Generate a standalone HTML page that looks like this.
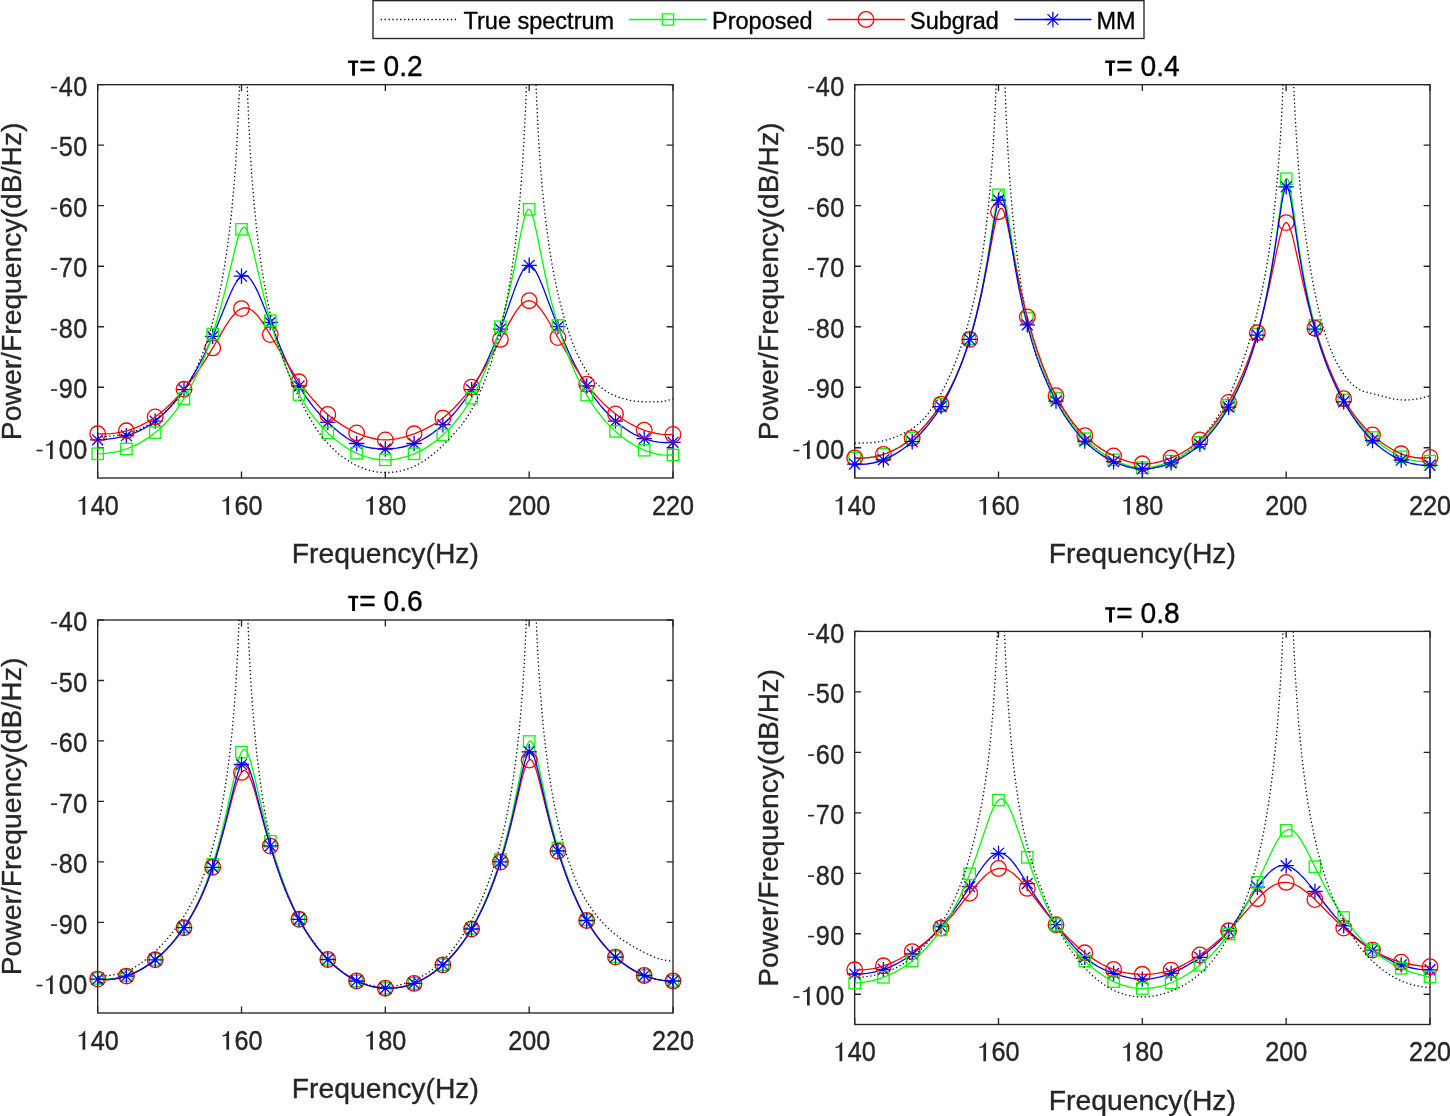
<!DOCTYPE html>
<html><head><meta charset="utf-8"><title>Spectrum estimates</title>
<style>
html,body{margin:0;padding:0;background:#fff;width:1450px;height:1116px;overflow:hidden}
svg text{font-family:"Liberation Sans",sans-serif}
svg{will-change:transform}
</style></head>
<body>
<svg width="1450" height="1116" viewBox="0 0 1450 1116" style="display:block">
<rect x="0" y="0" width="1450" height="1116" fill="#fff"/>
<defs>
<clipPath id="cTL"><rect x="97.67" y="84.67" width="575.33" height="393.33"/></clipPath>
<clipPath id="cTR"><rect x="854.67" y="84.67" width="575.33" height="393.33"/></clipPath>
<clipPath id="cBL"><rect x="97.67" y="620.0" width="575.33" height="393.00"/></clipPath>
<clipPath id="cBR"><rect x="854.67" y="631.4" width="575.33" height="393.10"/></clipPath>
</defs>
<g><rect x="97.67" y="84.67" width="575.33" height="393.33" fill="none" stroke="#262626" stroke-width="1.35"/><path d="M97.67 478.0v-6.4M97.67 84.67v6.4M241.50 478.0v-6.4M241.50 84.67v6.4M385.34 478.0v-6.4M385.34 84.67v6.4M529.17 478.0v-6.4M529.17 84.67v6.4M673.00 478.0v-6.4M673.00 84.67v6.4M97.67 84.67h6.4M673.0 84.67h-6.4M97.67 145.18h6.4M673.0 145.18h-6.4M97.67 205.69h6.4M673.0 205.69h-6.4M97.67 266.21h6.4M673.0 266.21h-6.4M97.67 326.72h6.4M673.0 326.72h-6.4M97.67 387.23h6.4M673.0 387.23h-6.4M97.67 447.74h6.4M673.0 447.74h-6.4" stroke="#262626" stroke-width="1.35" fill="none"/><g font-size="25.2" fill="#262626" stroke="#262626" stroke-width="0.35"><path transform="translate(76.65 514.70)" d="M5.9 0H8.6V-18.6H7.3C6.8 -17.2 6.0 -16.25 5.0 -15.55C4.1 -14.9 3.0 -14.6 1.85 -14.5V-13.2C3.3 -13.2 4.8 -13.5 5.9 -13.9Z" stroke="none"/><text transform="translate(90.66 514.70) scale(1 1.09)" letter-spacing="0">40</text><path transform="translate(220.48 514.70)" d="M5.9 0H8.6V-18.6H7.3C6.8 -17.2 6.0 -16.25 5.0 -15.55C4.1 -14.9 3.0 -14.6 1.85 -14.5V-13.2C3.3 -13.2 4.8 -13.5 5.9 -13.9Z" stroke="none"/><text transform="translate(234.49 514.70) scale(1 1.09)" letter-spacing="0">60</text><path transform="translate(364.31 514.70)" d="M5.9 0H8.6V-18.6H7.3C6.8 -17.2 6.0 -16.25 5.0 -15.55C4.1 -14.9 3.0 -14.6 1.85 -14.5V-13.2C3.3 -13.2 4.8 -13.5 5.9 -13.9Z" stroke="none"/><text transform="translate(378.33 514.70) scale(1 1.09)" letter-spacing="0">80</text><text transform="translate(508.14 514.70) scale(1 1.09)" letter-spacing="0">200</text><text transform="translate(651.98 514.70) scale(1 1.09)" letter-spacing="0">220</text><path transform="translate(49.75 95.87)" d="M1.3 -9.2H7.3V-7.6H1.3Z" stroke="none"/><text transform="translate(58.69 95.87) scale(1 1.09)" letter-spacing="0.55">40</text><path transform="translate(49.75 156.38)" d="M1.3 -9.2H7.3V-7.6H1.3Z" stroke="none"/><text transform="translate(58.69 156.38) scale(1 1.09)" letter-spacing="0.55">50</text><path transform="translate(49.75 216.89)" d="M1.3 -9.2H7.3V-7.6H1.3Z" stroke="none"/><text transform="translate(58.69 216.89) scale(1 1.09)" letter-spacing="0.55">60</text><path transform="translate(49.75 277.41)" d="M1.3 -9.2H7.3V-7.6H1.3Z" stroke="none"/><text transform="translate(58.69 277.41) scale(1 1.09)" letter-spacing="0.55">70</text><path transform="translate(49.75 337.92)" d="M1.3 -9.2H7.3V-7.6H1.3Z" stroke="none"/><text transform="translate(58.69 337.92) scale(1 1.09)" letter-spacing="0.55">80</text><path transform="translate(49.75 398.43)" d="M1.3 -9.2H7.3V-7.6H1.3Z" stroke="none"/><text transform="translate(58.69 398.43) scale(1 1.09)" letter-spacing="0.55">90</text><path transform="translate(35.18 458.94)" d="M1.3 -9.2H7.3V-7.6H1.3Z" stroke="none"/><path transform="translate(44.12 458.94)" d="M5.9 0H8.6V-18.6H7.3C6.8 -17.2 6.0 -16.25 5.0 -15.55C4.1 -14.9 3.0 -14.6 1.85 -14.5V-13.2C3.3 -13.2 4.8 -13.5 5.9 -13.9Z" stroke="none"/><text transform="translate(58.69 458.94) scale(1 1.09)" letter-spacing="0.55">00</text></g><path d="M348.19 60.47h10v2.5h-3.2v12.8h-2.9v-12.8h-3.9z" fill="#000"/><text transform="translate(359.19 75.97) scale(1 1.055)" font-size="28.2" fill="#000" stroke="#000" stroke-width="0.35">= 0.2</text><text transform="translate(385.33 563.00) scale(1 1.0)" text-anchor="middle" font-size="28.3" fill="#262626" stroke="#262626" stroke-width="0.35">Frequency(Hz)</text><text transform="translate(20.9 281.3) rotate(-90) scale(1 1.0)" x="0" y="0" text-anchor="middle" font-size="28.3" fill="#262626" stroke="#262626" stroke-width="0.35">Power/Frequency(dB/Hz)</text><path clip-path="url(#cTL)" d="M97.7 439.9L103.9 439.5L109.6 438.9L114.9 438.2L120.1 437.2L125.0 436.0L129.7 434.6L134.2 433.0L138.7 431.1L143.0 429.0L147.1 426.6L151.2 424.0L155.2 421.1L159.2 417.8L163.1 414.3L167.0 410.5L170.9 406.3L174.2 402.5L177.5 398.4L184.1 389.4L190.4 379.9L196.5 369.6L199.9 363.3L203.4 356.6L206.7 349.8L210.1 342.3L216.5 327.6L228.4 298.2L231.1 292.0L233.4 287.2L236.5 281.8L237.9 279.7L239.2 278.2L240.6 276.8L241.9 275.9L243.2 275.4L244.5 275.3L245.8 275.5L247.3 276.1L248.6 277.1L250.0 278.6L251.4 280.4L253.0 282.8L256.3 288.9L259.1 294.8L262.2 302.3L276.2 337.3L283.1 353.8L286.7 361.8L290.3 369.5L293.7 376.3L297.2 382.7L300.2 388.0L303.4 393.0L306.7 397.9L310.0 402.5L313.4 406.9L317.2 411.3L321.0 415.5L325.2 419.8L331.0 425.3L336.4 430.1L341.8 434.4L346.8 438.0L351.7 441.0L356.3 443.4L360.9 445.3L365.6 446.8L371.2 448.0L377.3 448.7L383.8 449.0L390.5 448.7L396.8 448.1L402.9 447.0L408.6 445.4L414.2 443.5L417.8 441.9L421.6 440.0L425.3 437.9L429.1 435.6L432.8 433.0L436.4 430.2L440.1 427.2L443.7 424.0L447.3 420.5L450.8 417.0L454.2 413.2L457.5 409.3L460.8 405.2L464.0 400.9L470.3 391.7L476.1 382.2L481.6 372.3L486.9 361.5L492.2 349.6L496.2 339.9L500.3 329.5L504.9 316.9L514.9 288.4L517.7 281.3L520.0 275.9L522.4 271.2L523.6 269.4L524.7 267.8L525.9 266.7L526.9 265.9L528.0 265.4L529.0 265.3L530.2 265.5L531.3 266.1L532.5 267.0L533.6 268.2L534.8 269.8L536.1 271.9L538.8 277.3L540.8 281.9L543.1 287.6L554.6 318.2L561.2 334.9L564.8 343.4L568.3 351.2L571.7 358.5L575.2 365.5L581.2 376.8L587.4 387.2L590.6 392.0L593.7 396.6L596.9 400.9L600.2 405.1L604.4 410.0L608.6 414.5L612.7 418.6L617.0 422.5L621.5 426.1L626.0 429.3L630.4 432.1L635.0 434.7L639.6 436.9L644.2 438.7L649.0 440.2L653.7 441.3L658.5 442.1L663.4 442.5L668.1 442.6L673.0 442.3" fill="none" stroke="#0000ff" stroke-width="1.3" stroke-linejoin="round"/><g fill="none" stroke="#0000ff" stroke-width="1.3"><path d="M97.7 432.2V447.6M90.0 439.9H105.4M92.2 434.4L103.1 445.3M92.2 445.3L103.1 434.4"/><path d="M126.4 427.9V443.3M118.7 435.6H134.1M121.0 430.2L131.9 441.1M121.0 441.1L131.9 430.2"/><path d="M155.2 413.4V428.8M147.5 421.1H162.9M149.8 415.7L160.6 426.6M149.8 426.6L160.6 415.7"/><path d="M184.0 382.0V397.4M176.3 389.7H191.7M178.5 384.2L189.4 395.1M178.5 395.1L189.4 384.2"/><path d="M212.7 328.7V344.1M205.0 336.4H220.4M207.3 331.0L218.2 341.8M207.3 341.8L218.2 331.0"/><path d="M241.5 268.5V283.9M233.8 276.2H249.2M236.1 270.7L246.9 281.6M236.1 281.6L246.9 270.7"/><path d="M270.3 314.8V330.2M262.6 322.5H278.0M264.8 317.0L275.7 327.9M264.8 327.9L275.7 317.0"/><path d="M299.0 378.3V393.7M291.3 386.0H306.7M293.6 380.6L304.5 391.5M293.6 391.5L304.5 380.6"/><path d="M327.8 414.6V430.0M320.1 422.3H335.5M322.4 416.9L333.2 427.8M322.4 427.8L333.2 416.9"/><path d="M356.6 435.8V451.2M348.9 443.5H364.3M351.1 438.1L362.0 449.0M351.1 449.0L362.0 438.1"/><path d="M385.3 441.3V456.7M377.6 449.0H393.0M379.9 443.5L390.8 454.4M379.9 454.4L390.8 443.5"/><path d="M414.1 435.8V451.2M406.4 443.5H421.8M408.7 438.1L419.5 449.0M408.7 449.0L419.5 438.1"/><path d="M442.9 417.0V432.4M435.2 424.7H450.6M437.4 419.3L448.3 430.2M437.4 430.2L448.3 419.3"/><path d="M471.6 382.0V397.4M463.9 389.7H479.3M466.2 384.2L477.1 395.1M466.2 395.1L477.1 384.2"/><path d="M500.4 321.4V336.8M492.7 329.1H508.1M495.0 323.7L505.8 334.6M495.0 334.6L505.8 323.7"/><path d="M529.2 257.6V273.0M521.5 265.3H536.9M523.7 259.9L534.6 270.7M523.7 270.7L534.6 259.9"/><path d="M557.9 319.0V334.4M550.2 326.7H565.6M552.5 321.3L563.4 332.2M552.5 332.2L563.4 321.3"/><path d="M586.7 378.3V393.7M579.0 386.0H594.4M581.3 380.6L592.1 391.5M581.3 391.5L592.1 380.6"/><path d="M615.5 413.4V428.8M607.8 421.1H623.2M610.0 415.7L620.9 426.6M610.0 426.6L620.9 415.7"/><path d="M644.2 431.0V446.4M636.5 438.7H651.9M638.8 433.2L649.7 444.1M638.8 444.1L649.7 433.2"/><path d="M673.0 434.6V450.0M665.3 442.3H680.7M667.6 436.9L678.4 447.7M667.6 447.7L678.4 436.9"/></g><path clip-path="url(#cTL)" d="M97.7 433.8L102.3 433.9L106.7 433.9L111.2 433.6L115.5 433.1L119.8 432.3L124.0 431.4L128.2 430.3L132.3 428.9L136.4 427.4L140.4 425.6L144.3 423.7L148.2 421.5L151.9 419.2L155.6 416.6L159.4 413.7L163.1 410.7L167.0 407.2L170.9 403.5L174.8 399.6L178.6 395.4L182.7 390.9L186.8 385.9L194.5 376.0L199.9 368.3L205.3 360.2L211.3 350.3L224.8 327.3L228.7 321.3L232.2 316.6L235.6 312.7L237.3 311.1L238.9 309.9L240.5 309.0L242.1 308.4L243.7 308.0L245.2 307.8L246.8 308.0L248.6 308.5L250.1 309.2L251.9 310.3L253.6 311.7L255.3 313.3L257.2 315.3L259.1 317.6L263.1 323.1L267.7 330.3L283.8 357.8L290.4 368.7L296.0 377.4L301.5 385.2L305.1 390.0L308.8 394.7L312.6 399.2L316.3 403.3L320.0 407.2L323.9 411.0L327.8 414.5L331.8 417.8L336.6 421.4L341.3 424.6L346.2 427.6L351.1 430.3L356.3 432.8L361.5 434.9L366.3 436.7L371.2 438.0L375.7 439.0L380.0 439.6L384.2 439.9L388.4 439.8L392.7 439.4L397.3 438.7L402.0 437.7L406.9 436.3L414.8 433.6L422.4 430.4L429.3 426.9L435.7 423.2L441.7 419.0L447.5 414.3L453.4 408.8L459.1 402.7L465.0 395.8L470.9 388.2L476.8 379.9L482.7 370.8L487.7 362.4L492.9 353.3L510.6 320.4L513.8 314.9L516.5 310.7L518.2 308.3L520.0 306.1L521.5 304.5L523.1 303.1L524.7 302.0L526.1 301.3L527.6 300.8L529.0 300.7L530.5 300.8L531.9 301.3L533.3 302.0L534.9 303.0L536.5 304.4L538.1 306.0L541.4 310.1L544.6 314.7L548.2 320.5L569.2 357.3L575.1 367.1L580.5 375.5L586.7 384.2L592.7 391.8L599.2 399.1L605.8 405.7L609.9 409.3L614.0 412.7L618.2 415.9L622.5 419.0L626.8 421.7L631.1 424.2L635.5 426.5L639.6 428.4L643.9 430.1L648.1 431.5L652.3 432.6L656.5 433.5L660.6 434.2L664.8 434.5L669.0 434.6L673.0 434.4" fill="none" stroke="#ff0000" stroke-width="1.3" stroke-linejoin="round"/><g fill="none" stroke="#ff0000" stroke-width="1.3"><circle cx="97.7" cy="433.8" r="7.8"/><circle cx="126.4" cy="430.8" r="7.8"/><circle cx="155.2" cy="416.9" r="7.8"/><circle cx="184.0" cy="389.3" r="7.8"/><circle cx="212.7" cy="347.9" r="7.8"/><circle cx="241.5" cy="308.6" r="7.8"/><circle cx="270.3" cy="334.6" r="7.8"/><circle cx="299.0" cy="381.8" r="7.8"/><circle cx="327.8" cy="414.5" r="7.8"/><circle cx="356.6" cy="432.9" r="7.8"/><circle cx="385.3" cy="439.9" r="7.8"/><circle cx="414.1" cy="433.8" r="7.8"/><circle cx="442.9" cy="418.1" r="7.8"/><circle cx="471.6" cy="387.2" r="7.8"/><circle cx="500.4" cy="339.4" r="7.8"/><circle cx="529.2" cy="300.7" r="7.8"/><circle cx="557.9" cy="337.6" r="7.8"/><circle cx="586.7" cy="384.2" r="7.8"/><circle cx="615.5" cy="413.9" r="7.8"/><circle cx="644.2" cy="430.2" r="7.8"/><circle cx="673.0" cy="434.4" r="7.8"/></g><path clip-path="url(#cTL)" d="M97.7 453.8L103.9 453.6L110.0 452.9L116.1 451.8L122.0 450.4L127.7 448.5L133.3 446.2L138.8 443.6L144.3 440.4L149.4 437.0L154.6 433.1L159.7 428.8L164.4 424.2L169.2 419.0L173.6 413.6L177.9 407.8L182.1 401.7L185.8 395.6L189.4 389.3L193.0 382.5L196.5 375.4L199.9 367.7L203.2 359.9L206.4 351.8L209.6 343.2L212.7 334.0L215.8 324.5L218.6 314.9L221.5 304.6L226.5 284.8L234.9 249.5L237.6 239.3L239.3 234.0L240.9 230.3L241.8 228.9L242.5 228.0L243.2 227.5L243.9 227.3L244.7 227.5L245.4 228.0L246.1 228.9L246.8 230.0L248.4 233.6L250.1 238.9L251.7 244.7L253.4 251.6L262.9 292.7L268.0 312.4L271.4 324.7L274.9 336.0L278.5 346.9L282.1 356.9L285.9 366.8L289.8 375.9L293.9 384.5L298.0 392.6L302.2 400.0L306.7 407.2L311.3 413.8L316.2 420.2L322.0 427.0L328.4 433.5L334.8 439.2L341.5 444.3L348.1 448.7L351.4 450.6L354.8 452.4L358.2 453.9L361.6 455.3L365.1 456.5L368.5 457.5L371.8 458.3L375.3 459.0L378.7 459.5L382.2 459.7L385.5 459.8L388.9 459.8L392.4 459.5L395.8 459.1L399.3 458.4L402.7 457.6L406.2 456.7L409.8 455.5L413.4 454.1L416.8 452.6L420.3 450.9L423.7 449.1L428.2 446.4L432.5 443.4L436.8 440.2L441.0 436.7L445.0 433.0L449.1 429.0L452.9 424.7L456.8 420.0L460.4 415.4L464.0 410.3L467.5 405.0L470.9 399.4L474.2 393.5L477.4 387.4L480.6 380.9L483.6 374.3L488.6 362.1L493.4 349.1L497.8 335.4L502.1 320.6L506.4 303.8L510.6 285.5L514.4 267.3L520.8 233.6L523.3 222.2L524.7 216.7L526.1 212.5L526.9 211.0L527.4 210.1L528.2 209.5L528.7 209.3L529.3 209.4L529.9 209.8L530.5 210.5L531.2 211.9L532.5 215.3L533.9 220.3L536.6 232.5L544.6 272.0L548.4 289.6L551.0 300.3L553.8 310.9L556.6 321.1L559.5 330.7L562.5 340.0L565.7 349.0L569.0 357.8L572.5 366.3L575.9 374.1L579.5 381.7L583.2 388.9L587.0 395.6L591.3 402.6L595.9 409.3L600.7 415.6L605.5 421.4L610.7 426.9L616.2 432.1L621.8 436.8L627.4 440.9L633.0 444.5L638.8 447.7L644.5 450.3L650.3 452.3L656.0 453.8L661.6 454.8L667.4 455.2L673.0 455.0" fill="none" stroke="#00ff00" stroke-width="1.3" stroke-linejoin="round"/><g fill="none" stroke="#00ff00" stroke-width="1.3"><rect x="92.0" y="448.1" width="11.4" height="11.4"/><rect x="120.7" y="443.3" width="11.4" height="11.4"/><rect x="149.5" y="426.9" width="11.4" height="11.4"/><rect x="178.3" y="393.0" width="11.4" height="11.4"/><rect x="207.0" y="328.3" width="11.4" height="11.4"/><rect x="235.8" y="223.6" width="11.4" height="11.4"/><rect x="264.6" y="315.0" width="11.4" height="11.4"/><rect x="293.3" y="388.8" width="11.4" height="11.4"/><rect x="322.1" y="427.2" width="11.4" height="11.4"/><rect x="350.9" y="447.5" width="11.4" height="11.4"/><rect x="379.6" y="454.1" width="11.4" height="11.4"/><rect x="408.4" y="448.1" width="11.4" height="11.4"/><rect x="437.2" y="429.3" width="11.4" height="11.4"/><rect x="465.9" y="392.4" width="11.4" height="11.4"/><rect x="494.7" y="321.0" width="11.4" height="11.4"/><rect x="523.5" y="203.6" width="11.4" height="11.4"/><rect x="552.2" y="319.8" width="11.4" height="11.4"/><rect x="581.0" y="389.4" width="11.4" height="11.4"/><rect x="609.8" y="425.7" width="11.4" height="11.4"/><rect x="638.5" y="444.5" width="11.4" height="11.4"/><rect x="667.3" y="449.3" width="11.4" height="11.4"/></g><path clip-path="url(#cTL)" d="M97.7 437.4L103.6 436.9L109.9 436.2L117.1 435.3L122.8 434.4L126.9 433.6L130.6 432.6L134.1 431.6L137.5 430.2L141.3 428.6L145.0 426.6L148.9 424.2L152.8 421.6L156.8 418.6L161.1 415.2L165.8 411.1L170.0 407.2L173.3 403.9L176.2 400.7L179.1 397.3L181.8 393.6L184.7 389.4L187.4 385.1L190.2 380.4L192.9 375.3L195.5 370.2L197.9 364.9L202.5 353.8L206.8 341.8L210.9 328.8L214.7 314.3L218.3 298.9L221.7 282.5L224.7 265.3L227.4 247.1L229.9 228.0L232.0 208.0L234.0 185.7L235.6 164.6L237.0 141.5L238.3 116.0L239.3 91.6L240.9 40.4L242.8 -50.1L243.1 -61.4L243.4 -66.7L243.5 -66.5L243.7 -64.3L243.9 -54.9L245.4 18.0L246.4 58.6L247.4 90.1L248.6 118.6L250.1 149.5L252.0 178.3L254.2 204.7L256.7 230.3L259.8 254.6L261.5 266.6L263.2 277.4L265.1 288.1L267.1 298.7L269.3 309.0L271.6 319.0L274.0 328.8L276.5 337.7L279.0 346.5L281.8 355.0L284.7 363.3L287.7 371.4L291.0 379.7L294.4 387.7L298.6 396.7L303.1 405.7L307.5 414.1L312.0 421.8L316.0 428.2L320.0 434.0L324.2 439.3L328.5 444.2L333.6 449.3L338.7 453.9L344.2 458.1L349.7 461.7L355.3 464.9L361.0 467.5L366.6 469.6L372.2 471.1L377.9 472.1L383.6 472.6L389.4 472.5L395.1 472.0L400.7 470.9L406.3 469.4L411.8 467.4L417.1 464.9L422.3 461.9L427.3 458.6L432.5 454.7L437.7 450.3L443.6 444.7L450.2 437.9L456.8 430.6L461.7 424.8L466.0 418.8L470.1 412.4L474.1 405.1L478.1 396.7L482.3 387.1L486.3 376.7L490.2 365.7L493.8 354.4L496.9 343.4L500.0 331.9L502.8 319.6L505.4 307.2L507.9 294.2L510.2 280.6L512.5 265.3L514.5 250.3L516.4 234.7L518.1 218.4L519.7 201.6L521.1 184.2L522.4 166.4L523.7 145.8L525.7 105.6L527.3 62.1L528.6 10.7L529.5 -40.5L530.3 -115.3L532.0 -115.3L532.8 -52.6L533.3 -13.9L534.1 21.8L534.9 54.4L536.1 87.6L537.4 116.6L538.8 142.3L540.5 167.3L542.4 189.5L544.6 210.9L546.9 230.0L549.4 248.4L552.3 265.8L555.5 282.3L558.9 297.8L562.8 312.9L567.0 326.9L571.3 339.4L573.6 345.4L575.9 350.9L578.2 356.0L580.7 361.0L583.0 365.3L585.4 369.4L587.9 373.1L590.4 376.6L593.0 379.8L595.8 382.7L598.6 385.4L601.5 387.8L604.8 390.2L608.4 392.5L612.0 394.4L615.9 396.1L619.9 397.7L624.1 398.9L628.3 400.0L632.7 400.8L638.0 401.4L643.8 401.8L651.3 401.9L657.6 401.8L661.8 401.5L665.5 400.9L669.3 400.0L673.0 398.7" fill="none" stroke="#000" stroke-width="1.3" stroke-dasharray="1.3 2.6"/></g>
<g><rect x="854.67" y="84.67" width="575.33" height="393.33" fill="none" stroke="#262626" stroke-width="1.35"/><path d="M854.67 478.0v-6.4M854.67 84.67v6.4M998.50 478.0v-6.4M998.50 84.67v6.4M1142.34 478.0v-6.4M1142.34 84.67v6.4M1286.17 478.0v-6.4M1286.17 84.67v6.4M1430.00 478.0v-6.4M1430.00 84.67v6.4M854.67 84.67h6.4M1430.0 84.67h-6.4M854.67 145.18h6.4M1430.0 145.18h-6.4M854.67 205.69h6.4M1430.0 205.69h-6.4M854.67 266.21h6.4M1430.0 266.21h-6.4M854.67 326.72h6.4M1430.0 326.72h-6.4M854.67 387.23h6.4M1430.0 387.23h-6.4M854.67 447.74h6.4M1430.0 447.74h-6.4" stroke="#262626" stroke-width="1.35" fill="none"/><g font-size="25.2" fill="#262626" stroke="#262626" stroke-width="0.35"><path transform="translate(833.65 514.70)" d="M5.9 0H8.6V-18.6H7.3C6.8 -17.2 6.0 -16.25 5.0 -15.55C4.1 -14.9 3.0 -14.6 1.85 -14.5V-13.2C3.3 -13.2 4.8 -13.5 5.9 -13.9Z" stroke="none"/><text transform="translate(847.66 514.70) scale(1 1.09)" letter-spacing="0">40</text><path transform="translate(977.48 514.70)" d="M5.9 0H8.6V-18.6H7.3C6.8 -17.2 6.0 -16.25 5.0 -15.55C4.1 -14.9 3.0 -14.6 1.85 -14.5V-13.2C3.3 -13.2 4.8 -13.5 5.9 -13.9Z" stroke="none"/><text transform="translate(991.49 514.70) scale(1 1.09)" letter-spacing="0">60</text><path transform="translate(1121.31 514.70)" d="M5.9 0H8.6V-18.6H7.3C6.8 -17.2 6.0 -16.25 5.0 -15.55C4.1 -14.9 3.0 -14.6 1.85 -14.5V-13.2C3.3 -13.2 4.8 -13.5 5.9 -13.9Z" stroke="none"/><text transform="translate(1135.33 514.70) scale(1 1.09)" letter-spacing="0">80</text><text transform="translate(1265.14 514.70) scale(1 1.09)" letter-spacing="0">200</text><text transform="translate(1408.98 514.70) scale(1 1.09)" letter-spacing="0">220</text><path transform="translate(806.75 95.87)" d="M1.3 -9.2H7.3V-7.6H1.3Z" stroke="none"/><text transform="translate(815.69 95.87) scale(1 1.09)" letter-spacing="0.55">40</text><path transform="translate(806.75 156.38)" d="M1.3 -9.2H7.3V-7.6H1.3Z" stroke="none"/><text transform="translate(815.69 156.38) scale(1 1.09)" letter-spacing="0.55">50</text><path transform="translate(806.75 216.89)" d="M1.3 -9.2H7.3V-7.6H1.3Z" stroke="none"/><text transform="translate(815.69 216.89) scale(1 1.09)" letter-spacing="0.55">60</text><path transform="translate(806.75 277.41)" d="M1.3 -9.2H7.3V-7.6H1.3Z" stroke="none"/><text transform="translate(815.69 277.41) scale(1 1.09)" letter-spacing="0.55">70</text><path transform="translate(806.75 337.92)" d="M1.3 -9.2H7.3V-7.6H1.3Z" stroke="none"/><text transform="translate(815.69 337.92) scale(1 1.09)" letter-spacing="0.55">80</text><path transform="translate(806.75 398.43)" d="M1.3 -9.2H7.3V-7.6H1.3Z" stroke="none"/><text transform="translate(815.69 398.43) scale(1 1.09)" letter-spacing="0.55">90</text><path transform="translate(792.18 458.94)" d="M1.3 -9.2H7.3V-7.6H1.3Z" stroke="none"/><path transform="translate(801.12 458.94)" d="M5.9 0H8.6V-18.6H7.3C6.8 -17.2 6.0 -16.25 5.0 -15.55C4.1 -14.9 3.0 -14.6 1.85 -14.5V-13.2C3.3 -13.2 4.8 -13.5 5.9 -13.9Z" stroke="none"/><text transform="translate(815.69 458.94) scale(1 1.09)" letter-spacing="0.55">00</text></g><path d="M1105.18 60.47h10v2.5h-3.2v12.8h-2.9v-12.8h-3.9z" fill="#000"/><text transform="translate(1116.18 75.97) scale(1 1.055)" font-size="28.2" fill="#000" stroke="#000" stroke-width="0.35">= 0.4</text><text transform="translate(1142.34 563.00) scale(1 1.0)" text-anchor="middle" font-size="28.3" fill="#262626" stroke="#262626" stroke-width="0.35">Frequency(Hz)</text><text transform="translate(777.9 281.3) rotate(-90) scale(1 1.0)" x="0" y="0" text-anchor="middle" font-size="28.3" fill="#262626" stroke="#262626" stroke-width="0.35">Power/Frequency(dB/Hz)</text><path clip-path="url(#cTR)" d="M854.7 443.1L868.5 442.9L872.4 442.6L876.0 442.2L879.8 441.6L883.9 440.7L888.2 439.5L892.6 438.0L897.7 436.1L902.6 433.9L906.9 431.7L910.8 429.5L914.4 427.1L917.8 424.4L921.0 421.5L924.1 418.3L927.3 414.6L930.3 410.7L933.5 406.1L936.7 401.1L940.0 395.4L943.1 389.6L946.3 383.2L949.3 376.8L952.2 370.2L955.1 363.1L957.8 356.0L960.5 348.3L963.1 340.5L965.6 332.7L970.0 316.7L973.9 300.7L977.4 284.2L980.5 266.7L983.4 248.1L986.0 228.4L988.3 207.7L990.3 186.0L992.2 161.6L993.8 136.2L995.1 110.6L996.2 82.1L997.2 50.1L997.9 20.8L998.6 -17.9L999.8 -115.3L1001.4 -115.3L1001.5 -109.8L1002.4 -27.5L1003.5 34.8L1004.3 62.3L1005.1 89.0L1006.1 114.5L1007.1 135.7L1008.3 156.4L1009.4 174.3L1010.9 193.8L1012.3 210.8L1013.9 227.4L1015.8 244.6L1017.6 260.0L1019.8 275.9L1021.9 290.1L1024.2 303.7L1026.5 316.0L1029.0 327.8L1031.4 338.3L1034.0 348.2L1036.6 356.8L1039.2 364.2L1042.2 371.5L1045.8 378.9L1052.2 390.6L1059.3 403.3L1064.1 411.0L1068.5 417.7L1073.3 424.2L1078.3 430.5L1083.5 436.4L1088.8 441.8L1094.0 446.6L1099.3 451.0L1104.8 454.9L1110.4 458.3L1116.3 461.5L1122.2 464.1L1127.7 466.1L1132.8 467.5L1137.9 468.4L1142.9 468.7L1148.2 468.6L1153.6 467.9L1159.0 466.8L1164.3 465.1L1169.8 462.9L1175.1 460.2L1180.5 456.9L1185.6 453.2L1190.8 448.9L1195.8 444.2L1200.9 438.9L1205.9 433.0L1210.7 426.9L1215.1 420.5L1219.3 414.0L1223.3 407.0L1227.2 399.6L1231.1 391.5L1234.8 382.9L1238.4 373.9L1241.6 365.3L1244.7 356.1L1247.8 346.7L1250.8 336.6L1253.7 326.3L1256.4 315.7L1259.0 304.9L1261.3 294.5L1263.4 284.0L1265.6 272.4L1267.5 261.5L1269.3 249.6L1272.6 225.2L1275.5 199.3L1278.1 170.4L1280.3 140.0L1282.0 109.2L1283.6 72.6L1284.9 32.2L1285.9 -11.3L1286.6 -54.9L1287.3 -115.3L1289.5 -115.3L1290.1 -62.1L1290.6 -24.5L1291.5 16.9L1292.5 52.7L1293.6 84.1L1295.1 114.9L1296.7 142.0L1298.5 168.0L1300.7 192.7L1303.0 214.8L1305.6 236.0L1308.5 256.3L1311.6 275.5L1315.1 293.8L1318.7 310.2L1322.4 324.7L1325.9 336.2L1329.6 346.8L1331.6 351.8L1333.6 356.4L1335.6 360.6L1337.8 364.7L1340.1 368.7L1342.4 372.4L1344.9 375.9L1347.3 379.0L1349.7 381.8L1352.2 384.3L1354.6 386.4L1357.1 388.2L1359.1 389.4L1361.1 390.4L1363.3 391.3L1365.7 392.0L1375.9 394.4L1389.9 398.2L1394.5 399.1L1398.8 399.7L1402.2 400.0L1405.5 400.0L1409.0 399.9L1412.6 399.5L1416.9 398.9L1421.5 398.0L1425.8 396.9L1430.0 395.8" fill="none" stroke="#000" stroke-width="1.3" stroke-dasharray="1.3 2.6"/><path clip-path="url(#cTR)" d="M854.7 458.0L861.4 458.2L868.2 457.7L874.7 456.7L881.1 455.1L887.5 453.0L893.6 450.2L899.7 447.0L905.6 443.2L911.3 438.8L916.9 433.8L922.6 428.2L928.0 422.0L933.3 415.2L938.4 408.1L943.4 400.2L948.0 392.2L951.9 384.8L955.5 377.2L958.9 369.3L962.3 360.9L965.4 352.2L968.4 343.0L971.3 333.5L974.1 323.5L976.6 313.2L979.2 302.0L981.7 290.4L984.0 278.6L987.6 258.3L994.3 215.7L996.8 202.0L997.9 196.9L999.1 193.1L1000.1 191.1L1000.7 190.5L1001.1 190.4L1001.5 190.5L1002.0 190.9L1003.0 192.8L1004.0 195.8L1005.1 200.6L1007.6 213.8L1015.2 260.5L1017.5 273.3L1019.8 285.2L1022.8 299.5L1026.0 313.1L1029.3 325.9L1032.7 338.2L1036.6 350.6L1040.8 362.8L1045.1 374.1L1049.6 384.6L1054.2 394.4L1058.9 403.5L1063.9 412.0L1069.1 419.9L1072.3 424.2L1075.5 428.2L1078.8 432.2L1082.1 435.8L1085.5 439.4L1089.0 442.7L1092.6 445.8L1096.3 448.9L1100.0 451.7L1103.9 454.3L1107.8 456.7L1111.8 459.0L1115.9 461.0L1119.9 462.7L1123.8 464.2L1127.7 465.4L1131.1 466.3L1134.6 467.0L1138.0 467.5L1141.3 467.7L1144.6 467.7L1147.9 467.5L1151.4 467.1L1154.8 466.4L1158.6 465.5L1162.5 464.4L1166.4 463.0L1170.4 461.4L1174.4 459.5L1178.4 457.5L1182.2 455.4L1185.9 453.1L1190.7 449.8L1195.1 446.4L1199.6 442.6L1203.9 438.4L1208.2 433.9L1212.4 429.0L1216.4 423.9L1220.4 418.3L1224.3 412.5L1228.1 406.4L1231.7 400.0L1235.1 393.4L1238.4 386.6L1241.7 379.2L1244.9 371.5L1247.9 363.6L1252.8 349.4L1257.4 334.0L1261.7 317.4L1265.6 300.2L1269.3 281.1L1272.9 259.8L1276.1 238.6L1281.1 202.1L1282.9 190.9L1283.9 185.6L1284.9 181.6L1285.4 180.0L1285.9 179.1L1286.3 178.6L1286.7 178.5L1287.0 178.6L1287.5 179.0L1288.3 180.8L1289.2 183.9L1290.2 188.7L1292.2 201.1L1298.4 244.2L1301.8 265.6L1304.1 278.3L1306.4 290.0L1309.0 301.9L1311.6 312.8L1314.6 324.5L1317.8 335.6L1321.1 346.2L1324.6 356.4L1328.3 366.5L1332.1 375.8L1335.9 384.6L1340.0 392.9L1344.4 401.2L1349.0 408.9L1353.9 416.2L1358.9 422.9L1364.3 429.1L1370.0 435.1L1376.1 440.7L1382.1 445.6L1388.1 449.8L1394.3 453.5L1400.4 456.5L1406.4 458.7L1409.4 459.6L1412.5 460.4L1415.5 460.9L1418.3 461.3L1421.4 461.5L1424.2 461.5L1427.1 461.4L1430.0 461.1" fill="none" stroke="#00ff00" stroke-width="1.3" stroke-linejoin="round"/><g fill="none" stroke="#00ff00" stroke-width="1.3"><rect x="849.0" y="452.3" width="11.4" height="11.4"/><rect x="877.7" y="448.7" width="11.4" height="11.4"/><rect x="906.5" y="432.4" width="11.4" height="11.4"/><rect x="935.3" y="398.5" width="11.4" height="11.4"/><rect x="964.0" y="333.1" width="11.4" height="11.4"/><rect x="992.8" y="189.1" width="11.4" height="11.4"/><rect x="1021.6" y="312.5" width="11.4" height="11.4"/><rect x="1050.3" y="392.4" width="11.4" height="11.4"/><rect x="1079.1" y="433.0" width="11.4" height="11.4"/><rect x="1107.9" y="454.1" width="11.4" height="11.4"/><rect x="1136.6" y="462.0" width="11.4" height="11.4"/><rect x="1165.4" y="455.4" width="11.4" height="11.4"/><rect x="1194.2" y="436.6" width="11.4" height="11.4"/><rect x="1222.9" y="399.7" width="11.4" height="11.4"/><rect x="1251.7" y="328.3" width="11.4" height="11.4"/><rect x="1280.5" y="173.1" width="11.4" height="11.4"/><rect x="1309.2" y="319.8" width="11.4" height="11.4"/><rect x="1338.0" y="394.2" width="11.4" height="11.4"/><rect x="1366.8" y="431.8" width="11.4" height="11.4"/><rect x="1395.5" y="451.1" width="11.4" height="11.4"/><rect x="1424.3" y="455.4" width="11.4" height="11.4"/></g><path clip-path="url(#cTR)" d="M854.7 458.0L861.1 458.2L867.6 457.8L873.9 456.8L880.1 455.4L886.2 453.5L892.2 450.9L898.0 448.0L903.7 444.4L909.2 440.5L914.6 435.9L920.0 430.9L925.3 425.2L930.5 419.0L935.5 412.3L940.4 405.1L945.0 397.6L948.9 390.7L952.5 383.7L955.9 376.4L959.2 368.8L962.4 360.8L965.4 352.5L968.3 344.0L971.2 334.7L973.9 325.1L976.5 315.2L979.1 304.5L981.7 293.0L986.1 271.1L993.5 232.0L995.9 220.5L997.4 215.1L998.6 211.4L999.4 210.0L999.9 209.1L1000.5 208.6L1001.1 208.4L1001.7 208.5L1002.4 209.1L1003.0 209.9L1003.7 211.4L1005.1 215.4L1006.6 220.8L1009.0 232.1L1015.8 266.7L1019.6 285.4L1024.1 304.7L1028.7 322.3L1033.3 338.1L1038.1 352.7L1043.1 366.6L1048.3 379.3L1051.1 385.7L1054.2 392.0L1057.2 397.9L1060.4 403.6L1063.7 409.1L1067.0 414.2L1070.4 419.1L1073.9 423.6L1077.6 428.0L1081.4 432.2L1085.2 436.1L1089.3 439.8L1093.4 443.2L1097.6 446.4L1101.9 449.4L1106.4 452.1L1113.4 455.8L1120.6 459.0L1124.1 460.2L1127.5 461.3L1130.8 462.2L1134.1 462.9L1137.3 463.4L1140.5 463.7L1143.5 463.8L1146.6 463.8L1149.8 463.5L1153.1 463.1L1156.4 462.5L1159.9 461.7L1163.6 460.7L1167.5 459.4L1171.4 457.9L1175.3 456.2L1178.9 454.5L1182.5 452.6L1185.9 450.5L1189.4 448.3L1192.5 446.0L1195.7 443.5L1198.9 440.8L1201.9 438.0L1207.8 431.8L1213.7 424.8L1218.7 418.0L1223.7 410.5L1228.6 402.4L1233.2 393.9L1237.8 384.7L1242.2 375.1L1246.3 365.0L1250.2 354.7L1253.9 343.8L1257.4 332.8L1260.7 321.3L1264.0 308.8L1268.9 288.1L1277.8 246.0L1279.4 239.0L1280.8 233.4L1282.3 228.6L1283.7 225.1L1284.4 223.9L1285.0 223.2L1285.7 222.7L1286.3 222.6L1286.9 222.8L1287.6 223.4L1288.2 224.1L1288.9 225.4L1290.3 229.0L1291.8 233.7L1294.7 245.4L1302.9 282.6L1307.0 299.9L1309.8 310.3L1312.6 320.5L1315.7 330.6L1318.8 340.4L1322.1 350.0L1325.4 359.0L1328.9 367.7L1332.3 375.8L1335.8 383.4L1339.4 390.7L1343.0 397.5L1346.6 403.6L1350.7 410.1L1355.2 416.3L1360.0 422.2L1364.8 427.6L1370.2 432.9L1375.9 438.0L1381.5 442.5L1387.3 446.5L1392.9 449.8L1398.4 452.6L1403.8 454.8L1409.1 456.4L1414.5 457.5L1419.6 458.0L1424.8 458.0L1430.0 457.4" fill="none" stroke="#ff0000" stroke-width="1.3" stroke-linejoin="round"/><g fill="none" stroke="#ff0000" stroke-width="1.3"><circle cx="854.7" cy="458.0" r="7.8"/><circle cx="883.4" cy="454.4" r="7.8"/><circle cx="912.2" cy="438.1" r="7.8"/><circle cx="941.0" cy="404.2" r="7.8"/><circle cx="969.7" cy="339.4" r="7.8"/><circle cx="998.5" cy="211.7" r="7.8"/><circle cx="1027.3" cy="317.0" r="7.8"/><circle cx="1056.0" cy="395.7" r="7.8"/><circle cx="1084.8" cy="435.6" r="7.8"/><circle cx="1113.6" cy="455.9" r="7.8"/><circle cx="1142.3" cy="463.8" r="7.8"/><circle cx="1171.1" cy="458.0" r="7.8"/><circle cx="1199.9" cy="439.9" r="7.8"/><circle cx="1228.6" cy="402.4" r="7.8"/><circle cx="1257.4" cy="332.8" r="7.8"/><circle cx="1286.2" cy="222.6" r="7.8"/><circle cx="1314.9" cy="328.2" r="7.8"/><circle cx="1343.7" cy="398.7" r="7.8"/><circle cx="1372.5" cy="435.0" r="7.8"/><circle cx="1401.2" cy="453.8" r="7.8"/><circle cx="1430.0" cy="457.4" r="7.8"/></g><path clip-path="url(#cTR)" d="M854.7 464.1L860.7 464.4L866.8 464.0L872.8 463.0L878.8 461.5L885.0 459.2L891.1 456.4L897.2 452.9L903.3 448.8L909.3 444.2L915.2 438.9L920.8 433.3L926.3 427.2L931.5 420.7L936.4 413.8L941.1 406.4L945.7 398.4L949.6 390.9L953.5 382.8L957.2 374.3L960.8 365.4L964.3 356.1L967.4 346.7L970.6 336.6L973.5 326.5L976.2 316.1L978.8 305.3L981.4 293.6L983.8 281.6L987.6 261.2L994.3 220.2L996.6 207.7L997.8 202.8L998.9 199.0L999.9 197.0L1000.5 196.4L1000.9 196.3L1001.4 196.4L1002.0 196.9L1003.0 198.9L1004.0 202.1L1005.1 207.0L1007.6 220.3L1015.0 266.5L1017.3 279.4L1019.6 291.3L1022.7 305.7L1025.7 318.6L1028.9 330.9L1032.3 342.9L1036.0 354.6L1040.1 365.9L1044.4 376.8L1048.8 386.9L1053.6 396.5L1058.8 406.0L1064.1 414.8L1069.6 422.9L1072.7 427.1L1075.9 431.2L1079.2 435.1L1082.5 438.7L1085.8 442.1L1089.1 445.2L1092.6 448.2L1096.0 451.0L1099.6 453.6L1103.4 456.1L1107.1 458.3L1111.0 460.4L1115.0 462.3L1118.9 464.0L1122.9 465.4L1126.8 466.6L1130.5 467.5L1134.1 468.2L1137.7 468.7L1141.2 468.9L1144.6 468.9L1148.2 468.7L1151.8 468.3L1155.4 467.7L1159.2 466.9L1163.0 465.8L1166.9 464.5L1171.0 462.9L1174.8 461.2L1178.7 459.3L1182.5 457.3L1186.2 455.0L1190.7 451.9L1195.1 448.5L1199.4 444.8L1203.6 440.8L1207.8 436.4L1211.8 431.8L1215.8 426.7L1219.7 421.3L1223.5 415.7L1227.2 409.7L1230.8 403.4L1234.2 396.8L1237.6 390.0L1240.9 382.7L1243.9 375.5L1246.9 367.8L1251.8 353.8L1256.3 339.3L1260.4 323.8L1264.4 306.6L1268.3 287.7L1271.9 267.5L1275.1 247.6L1280.6 210.6L1282.4 199.3L1283.6 193.6L1284.6 189.9L1285.6 187.6L1286.2 186.9L1286.6 186.8L1287.0 187.0L1287.5 187.4L1288.5 189.6L1289.5 193.2L1290.5 198.0L1292.6 210.7L1299.0 252.5L1302.6 273.7L1304.9 286.0L1307.3 297.9L1309.8 308.8L1312.3 319.4L1315.2 330.2L1318.1 340.0L1321.3 350.0L1324.6 359.5L1328.0 368.5L1331.8 377.6L1335.5 385.8L1339.5 394.0L1344.1 402.5L1349.0 410.7L1354.1 418.4L1359.2 425.5L1364.6 432.0L1370.0 438.0L1375.6 443.5L1381.2 448.2L1387.1 452.5L1393.0 456.1L1399.1 459.2L1405.1 461.6L1411.3 463.5L1417.5 464.7L1423.7 465.3L1430.0 465.3" fill="none" stroke="#0000ff" stroke-width="1.3" stroke-linejoin="round"/><g fill="none" stroke="#0000ff" stroke-width="1.3"><path d="M854.7 456.4V471.8M847.0 464.1H862.4M849.2 458.6L860.1 469.5M849.2 469.5L860.1 458.6"/><path d="M883.4 452.1V467.5M875.7 459.8H891.1M878.0 454.4L888.9 465.3M878.0 465.3L888.9 454.4"/><path d="M912.2 434.0V449.4M904.5 441.7H919.9M906.8 436.2L917.6 447.1M906.8 447.1L917.6 436.2"/><path d="M941.0 398.9V414.3M933.3 406.6H948.7M935.5 401.2L946.4 412.0M935.5 412.0L946.4 401.2"/><path d="M969.7 331.7V347.1M962.0 339.4H977.4M964.3 334.0L975.2 344.9M964.3 344.9L975.2 334.0"/><path d="M998.5 192.5V207.9M990.8 200.2H1006.2M993.1 194.8L1003.9 205.7M993.1 205.7L1003.9 194.8"/><path d="M1027.3 317.2V332.6M1019.6 324.9H1035.0M1021.8 319.5L1032.7 330.3M1021.8 330.3L1032.7 319.5"/><path d="M1056.0 393.4V408.8M1048.3 401.1H1063.7M1050.6 395.7L1061.5 406.6M1050.6 406.6L1061.5 395.7"/><path d="M1084.8 433.4V448.8M1077.1 441.1H1092.5M1079.4 435.6L1090.2 446.5M1079.4 446.5L1090.2 435.6"/><path d="M1113.6 454.0V469.4M1105.9 461.7H1121.3M1108.1 456.2L1119.0 467.1M1108.1 467.1L1119.0 456.2"/><path d="M1142.3 461.2V476.6M1134.6 468.9H1150.0M1136.9 463.5L1147.8 474.4M1136.9 474.4L1147.8 463.5"/><path d="M1171.1 455.2V470.6M1163.4 462.9H1178.8M1165.7 457.4L1176.5 468.3M1165.7 468.3L1176.5 457.4"/><path d="M1199.9 436.7V452.1M1192.2 444.4H1207.6M1194.4 439.0L1205.3 449.9M1194.4 449.9L1205.3 439.0"/><path d="M1228.6 399.5V414.9M1220.9 407.2H1236.3M1223.2 401.8L1234.1 412.6M1223.2 412.6L1234.1 401.8"/><path d="M1257.4 327.5V342.9M1249.7 335.2H1265.1M1252.0 329.7L1262.8 340.6M1252.0 340.6L1262.8 329.7"/><path d="M1286.2 179.2V194.6M1278.5 186.9H1293.9M1280.7 181.5L1291.6 192.4M1280.7 192.4L1291.6 181.5"/><path d="M1314.9 321.4V336.8M1307.2 329.1H1322.6M1309.5 323.7L1320.4 334.6M1309.5 334.6L1320.4 323.7"/><path d="M1343.7 394.1V409.5M1336.0 401.8H1351.4M1338.3 396.3L1349.1 407.2M1338.3 407.2L1349.1 396.3"/><path d="M1372.5 432.8V448.2M1364.8 440.5H1380.2M1367.0 435.0L1377.9 445.9M1367.0 445.9L1377.9 435.0"/><path d="M1401.2 452.4V467.8M1393.5 460.1H1408.9M1395.8 454.7L1406.7 465.6M1395.8 465.6L1406.7 454.7"/><path d="M1430.0 457.6V473.0M1422.3 465.3H1437.7M1424.6 459.8L1435.4 470.7M1424.6 470.7L1435.4 459.8"/></g></g>
<g><rect x="97.67" y="620.0" width="575.33" height="393.00" fill="none" stroke="#262626" stroke-width="1.35"/><path d="M97.67 1013.0v-6.4M97.67 620.0v6.4M241.50 1013.0v-6.4M241.50 620.0v6.4M385.34 1013.0v-6.4M385.34 620.0v6.4M529.17 1013.0v-6.4M529.17 620.0v6.4M673.00 1013.0v-6.4M673.00 620.0v6.4M97.67 620.00h6.4M673.0 620.00h-6.4M97.67 680.46h6.4M673.0 680.46h-6.4M97.67 740.92h6.4M673.0 740.92h-6.4M97.67 801.38h6.4M673.0 801.38h-6.4M97.67 861.85h6.4M673.0 861.85h-6.4M97.67 922.31h6.4M673.0 922.31h-6.4M97.67 982.77h6.4M673.0 982.77h-6.4" stroke="#262626" stroke-width="1.35" fill="none"/><g font-size="25.2" fill="#262626" stroke="#262626" stroke-width="0.35"><path transform="translate(76.65 1049.70)" d="M5.9 0H8.6V-18.6H7.3C6.8 -17.2 6.0 -16.25 5.0 -15.55C4.1 -14.9 3.0 -14.6 1.85 -14.5V-13.2C3.3 -13.2 4.8 -13.5 5.9 -13.9Z" stroke="none"/><text transform="translate(90.66 1049.70) scale(1 1.09)" letter-spacing="0">40</text><path transform="translate(220.48 1049.70)" d="M5.9 0H8.6V-18.6H7.3C6.8 -17.2 6.0 -16.25 5.0 -15.55C4.1 -14.9 3.0 -14.6 1.85 -14.5V-13.2C3.3 -13.2 4.8 -13.5 5.9 -13.9Z" stroke="none"/><text transform="translate(234.49 1049.70) scale(1 1.09)" letter-spacing="0">60</text><path transform="translate(364.31 1049.70)" d="M5.9 0H8.6V-18.6H7.3C6.8 -17.2 6.0 -16.25 5.0 -15.55C4.1 -14.9 3.0 -14.6 1.85 -14.5V-13.2C3.3 -13.2 4.8 -13.5 5.9 -13.9Z" stroke="none"/><text transform="translate(378.33 1049.70) scale(1 1.09)" letter-spacing="0">80</text><text transform="translate(508.14 1049.70) scale(1 1.09)" letter-spacing="0">200</text><text transform="translate(651.98 1049.70) scale(1 1.09)" letter-spacing="0">220</text><path transform="translate(49.75 631.20)" d="M1.3 -9.2H7.3V-7.6H1.3Z" stroke="none"/><text transform="translate(58.69 631.20) scale(1 1.09)" letter-spacing="0.55">40</text><path transform="translate(49.75 691.66)" d="M1.3 -9.2H7.3V-7.6H1.3Z" stroke="none"/><text transform="translate(58.69 691.66) scale(1 1.09)" letter-spacing="0.55">50</text><path transform="translate(49.75 752.12)" d="M1.3 -9.2H7.3V-7.6H1.3Z" stroke="none"/><text transform="translate(58.69 752.12) scale(1 1.09)" letter-spacing="0.55">60</text><path transform="translate(49.75 812.58)" d="M1.3 -9.2H7.3V-7.6H1.3Z" stroke="none"/><text transform="translate(58.69 812.58) scale(1 1.09)" letter-spacing="0.55">70</text><path transform="translate(49.75 873.05)" d="M1.3 -9.2H7.3V-7.6H1.3Z" stroke="none"/><text transform="translate(58.69 873.05) scale(1 1.09)" letter-spacing="0.55">80</text><path transform="translate(49.75 933.51)" d="M1.3 -9.2H7.3V-7.6H1.3Z" stroke="none"/><text transform="translate(58.69 933.51) scale(1 1.09)" letter-spacing="0.55">90</text><path transform="translate(35.18 993.97)" d="M1.3 -9.2H7.3V-7.6H1.3Z" stroke="none"/><path transform="translate(44.12 993.97)" d="M5.9 0H8.6V-18.6H7.3C6.8 -17.2 6.0 -16.25 5.0 -15.55C4.1 -14.9 3.0 -14.6 1.85 -14.5V-13.2C3.3 -13.2 4.8 -13.5 5.9 -13.9Z" stroke="none"/><text transform="translate(58.69 993.97) scale(1 1.09)" letter-spacing="0.55">00</text></g><path d="M348.19 595.80h10v2.5h-3.2v12.8h-2.9v-12.8h-3.9z" fill="#000"/><text transform="translate(359.19 611.30) scale(1 1.055)" font-size="28.2" fill="#000" stroke="#000" stroke-width="0.35">= 0.6</text><text transform="translate(385.33 1098.00) scale(1 1.0)" text-anchor="middle" font-size="28.3" fill="#262626" stroke="#262626" stroke-width="0.35">Frequency(Hz)</text><text transform="translate(20.9 816.5) rotate(-90) scale(1 1.0)" x="0" y="0" text-anchor="middle" font-size="28.3" fill="#262626" stroke="#262626" stroke-width="0.35">Power/Frequency(dB/Hz)</text><path clip-path="url(#cBL)" d="M97.7 976.5L104.0 976.0L109.6 975.4L113.9 974.8L117.8 974.1L121.5 973.1L125.3 971.8L128.9 970.3L132.5 968.5L136.5 966.2L140.5 963.5L145.0 960.2L149.7 956.3L154.3 952.2L158.7 948.1L162.8 943.8L167.0 939.2L170.9 934.6L174.8 929.6L178.5 924.5L182.1 919.2L185.4 914.0L188.6 908.7L191.6 903.2L194.5 897.5L197.2 891.6L199.8 885.6L202.4 879.1L204.8 872.5L207.3 865.3L209.6 858.0L213.9 842.7L217.6 827.3L221.1 810.8L224.2 793.1L227.0 775.3L229.4 756.6L231.7 735.7L233.7 713.7L235.5 690.9L237.0 665.1L238.3 638.7L239.5 609.1L240.4 580.6L241.1 550.1L241.6 518.4L242.8 420.0L244.2 420.0L244.4 425.3L245.1 497.9L246.1 556.8L247.5 609.6L248.4 632.9L249.4 655.3L250.4 674.2L251.6 692.8L252.9 710.8L254.2 726.5L255.7 743.3L257.3 758.1L259.1 772.6L261.1 787.6L263.2 801.9L265.5 815.5L268.0 828.5L270.4 840.1L273.1 851.8L275.9 862.2L278.8 871.9L281.8 881.0L285.1 889.8L288.8 898.6L293.0 907.4L297.6 916.3L302.5 924.9L307.5 933.1L312.6 940.4L317.7 947.3L322.8 953.3L327.9 958.9L333.4 964.2L338.9 968.9L344.3 973.1L349.7 976.6L355.1 979.6L360.7 982.2L366.3 984.2L371.8 985.7L377.1 986.6L382.6 986.9L388.2 986.8L393.8 986.2L399.6 985.0L405.6 983.3L411.8 981.0L417.8 978.4L423.6 975.3L429.1 972.0L434.1 968.4L439.0 964.3L443.7 959.8L448.3 954.9L453.2 948.9L458.0 942.5L462.7 935.5L467.5 927.7L472.1 919.5L476.4 911.0L480.4 902.4L484.3 893.3L487.3 885.6L490.3 877.3L493.1 869.1L495.8 860.3L498.4 851.3L500.8 842.0L503.1 832.6L505.3 823.0L507.3 813.3L509.3 802.7L511.2 792.0L512.9 781.1L516.1 758.1L519.0 732.6L521.1 709.1L523.1 682.2L524.7 655.9L526.1 625.8L527.6 585.8L528.7 540.6L529.6 490.7L530.3 423.9L530.5 420.0L532.2 420.0L533.3 511.9L534.1 548.7L534.8 576.8L535.8 607.7L536.9 635.4L538.2 660.4L539.8 685.3L541.7 709.3L543.7 730.7L546.0 751.2L548.4 769.7L551.3 788.2L554.3 805.0L557.8 821.5L561.5 837.0L565.4 851.0L569.6 863.9L574.0 875.9L576.3 881.4L578.6 886.5L581.1 891.5L583.5 896.1L586.1 900.6L588.9 905.0L591.6 909.1L594.5 913.0L597.5 916.8L600.7 920.5L604.2 924.3L608.0 928.0L612.0 931.6L616.2 935.1L620.4 938.3L624.7 941.3L629.1 944.2L633.9 947.0L640.1 950.3L647.4 954.0L652.3 956.3L656.3 957.9L660.2 959.2L664.2 960.1L668.5 960.8L673.0 961.3" fill="none" stroke="#000" stroke-width="1.3" stroke-dasharray="1.3 2.6"/><path clip-path="url(#cBL)" d="M97.7 978.5L103.6 978.9L109.5 978.8L115.4 978.2L121.3 977.0L127.2 975.3L132.9 973.1L138.7 970.4L144.4 967.1L150.0 963.4L155.6 959.1L161.1 954.4L166.3 949.3L171.5 943.7L176.3 937.7L181.1 931.3L185.7 924.5L189.3 918.6L192.7 912.5L196.1 906.2L199.2 899.6L202.2 892.8L205.3 885.4L208.1 877.8L211.0 869.5L213.7 861.1L216.5 851.9L219.2 842.0L221.8 832.0L226.5 812.0L234.9 774.1L237.8 762.6L239.6 756.5L241.2 752.7L242.1 751.2L242.8 750.3L243.5 749.8L244.2 749.6L245.0 749.7L245.7 750.2L246.4 751.1L247.3 752.5L248.8 756.1L250.6 761.4L252.1 767.2L254.0 774.7L263.7 815.9L268.8 836.1L272.4 848.8L276.0 860.7L279.8 872.2L283.5 882.7L287.4 892.9L291.3 902.2L295.2 910.8L299.2 919.0L303.2 926.3L307.4 933.3L311.8 939.9L316.4 946.2L322.2 953.1L328.4 959.8L334.8 965.9L341.3 971.3L347.7 975.8L354.0 979.6L357.1 981.2L360.3 982.7L363.5 983.9L366.8 985.0L370.2 986.0L373.7 986.8L377.3 987.5L380.9 987.9L384.6 988.2L388.4 988.3L392.1 988.2L395.7 987.9L399.3 987.4L402.7 986.8L406.2 986.0L409.5 985.0L412.8 983.9L416.1 982.5L419.4 981.0L422.7 979.3L427.2 976.7L431.5 973.8L435.8 970.6L440.1 967.0L444.5 963.2L448.6 959.1L452.6 954.7L456.5 950.2L460.1 945.7L463.7 940.7L467.2 935.6L470.6 930.1L473.9 924.3L477.1 918.4L480.3 912.1L483.3 905.6L488.6 893.1L493.6 879.9L498.4 865.9L502.8 851.1L507.4 834.0L511.8 815.9L515.6 797.7L522.4 763.8L524.9 752.9L526.3 747.7L527.7 743.8L528.4 742.5L529.0 741.7L529.7 741.1L530.3 741.0L530.9 741.2L531.5 741.7L532.0 742.4L532.8 743.8L534.1 747.1L535.5 752.1L538.2 763.8L546.0 800.9L550.0 818.4L552.8 829.3L555.5 839.4L558.4 849.4L561.4 859.1L564.6 868.7L567.9 877.9L571.2 886.6L574.6 895.0L578.2 903.1L581.8 910.6L585.4 917.5L589.0 923.9L593.2 930.5L597.5 936.8L601.9 942.5L606.7 948.0L611.7 953.3L617.0 958.2L622.5 962.7L628.0 966.7L633.4 970.1L639.1 973.2L644.7 975.7L650.4 977.8L656.0 979.3L661.8 980.4L667.4 980.9L673.0 981.0" fill="none" stroke="#00ff00" stroke-width="1.3" stroke-linejoin="round"/><g fill="none" stroke="#00ff00" stroke-width="1.3"><rect x="92.0" y="972.8" width="11.4" height="11.4"/><rect x="120.7" y="969.8" width="11.4" height="11.4"/><rect x="149.5" y="953.8" width="11.4" height="11.4"/><rect x="178.3" y="921.4" width="11.4" height="11.4"/><rect x="207.0" y="858.6" width="11.4" height="11.4"/><rect x="235.8" y="746.4" width="11.4" height="11.4"/><rect x="264.6" y="835.6" width="11.4" height="11.4"/><rect x="293.3" y="913.0" width="11.4" height="11.4"/><rect x="322.1" y="953.5" width="11.4" height="11.4"/><rect x="350.9" y="975.3" width="11.4" height="11.4"/><rect x="379.6" y="982.5" width="11.4" height="11.4"/><rect x="408.4" y="977.7" width="11.4" height="11.4"/><rect x="437.2" y="958.9" width="11.4" height="11.4"/><rect x="465.9" y="922.7" width="11.4" height="11.4"/><rect x="494.7" y="853.7" width="11.4" height="11.4"/><rect x="523.5" y="735.8" width="11.4" height="11.4"/><rect x="552.2" y="842.2" width="11.4" height="11.4"/><rect x="581.0" y="914.2" width="11.4" height="11.4"/><rect x="609.8" y="951.1" width="11.4" height="11.4"/><rect x="638.5" y="969.8" width="11.4" height="11.4"/><rect x="667.3" y="975.3" width="11.4" height="11.4"/></g><path clip-path="url(#cBL)" d="M97.7 979.1L103.1 979.6L108.6 979.6L114.1 979.0L119.5 978.1L125.1 976.5L130.6 974.6L136.1 972.2L141.5 969.2L147.0 965.8L152.5 961.9L157.8 957.6L163.0 952.9L168.0 947.9L172.9 942.4L177.6 936.5L182.1 930.5L185.7 925.2L189.1 919.7L192.5 914.0L195.6 908.1L198.6 902.1L201.7 895.7L204.5 889.0L207.4 881.9L210.3 874.3L213.2 866.0L215.9 857.6L218.8 848.2L223.8 830.3L233.0 795.4L234.9 788.9L236.6 783.3L238.8 777.5L240.6 773.7L241.6 772.2L242.5 771.3L243.5 770.6L244.4 770.5L245.2 770.7L246.1 771.2L247.0 772.1L248.0 773.5L249.8 777.2L252.0 782.8L255.5 793.8L266.1 832.0L272.6 853.5L276.2 864.5L279.9 875.2L283.6 885.2L287.5 894.8L291.3 903.4L295.2 911.7L299.0 919.3L302.9 926.3L306.9 932.9L311.3 939.4L315.6 945.3L320.2 951.1L325.8 957.4L331.7 963.3L337.7 968.6L343.8 973.3L349.8 977.3L355.8 980.6L362.0 983.3L368.2 985.4L371.5 986.3L374.8 987.0L381.5 988.0L384.9 988.2L388.4 988.3L391.8 988.2L395.1 987.9L401.7 987.0L408.2 985.4L414.5 983.2L420.9 980.3L425.0 978.1L429.2 975.5L433.4 972.6L437.5 969.5L441.6 966.1L445.6 962.4L449.5 958.5L453.4 954.3L457.0 950.1L460.6 945.5L464.0 940.8L467.5 935.7L470.8 930.4L473.9 925.0L477.1 919.2L480.1 913.3L485.3 902.3L490.2 890.7L494.9 878.2L499.5 864.8L504.4 849.0L509.2 831.8L513.5 814.5L521.0 782.7L523.8 771.7L525.7 766.0L527.3 762.4L528.2 761.0L528.9 760.2L529.6 759.7L530.3 759.6L531.0 759.8L531.8 760.3L532.5 761.1L533.2 762.3L534.8 765.8L536.5 770.9L539.2 780.7L547.6 814.5L552.6 833.4L555.6 843.8L558.7 853.5L561.8 863.1L565.0 872.1L568.1 880.6L571.5 888.9L574.8 896.6L578.1 903.8L581.4 910.6L584.8 917.2L588.3 923.2L591.7 928.8L595.9 934.9L600.2 940.7L604.7 946.1L609.3 951.1L614.2 955.9L619.2 960.3L624.4 964.3L629.6 967.9L634.9 971.1L640.2 973.8L645.5 976.0L651.0 977.9L656.5 979.3L661.9 980.3L667.4 980.8L673.0 981.0" fill="none" stroke="#ff0000" stroke-width="1.3" stroke-linejoin="round"/><g fill="none" stroke="#ff0000" stroke-width="1.3"><circle cx="97.7" cy="979.1" r="7.8"/><circle cx="126.4" cy="976.1" r="7.8"/><circle cx="155.2" cy="959.8" r="7.8"/><circle cx="184.0" cy="927.7" r="7.8"/><circle cx="212.7" cy="867.3" r="7.8"/><circle cx="241.5" cy="772.4" r="7.8"/><circle cx="270.3" cy="846.1" r="7.8"/><circle cx="299.0" cy="919.3" r="7.8"/><circle cx="327.8" cy="959.5" r="7.8"/><circle cx="356.6" cy="981.0" r="7.8"/><circle cx="385.3" cy="988.2" r="7.8"/><circle cx="414.1" cy="983.4" r="7.8"/><circle cx="442.9" cy="964.9" r="7.8"/><circle cx="471.6" cy="929.0" r="7.8"/><circle cx="500.4" cy="862.1" r="7.8"/><circle cx="529.2" cy="760.0" r="7.8"/><circle cx="557.9" cy="851.3" r="7.8"/><circle cx="586.7" cy="920.5" r="7.8"/><circle cx="615.5" cy="957.1" r="7.8"/><circle cx="644.2" cy="975.5" r="7.8"/><circle cx="673.0" cy="981.0" r="7.8"/></g><path clip-path="url(#cBL)" d="M97.7 979.1L103.3 979.6L109.0 979.5L114.6 978.9L120.4 977.8L126.1 976.2L131.8 974.1L137.4 971.5L143.0 968.4L148.6 964.8L154.1 960.7L159.4 956.2L164.7 951.2L169.9 945.8L174.9 939.9L179.8 933.6L184.5 926.9L188.1 921.4L191.6 915.6L194.9 909.7L198.1 903.6L201.1 897.2L204.1 890.3L207.0 883.2L209.7 876.0L212.4 868.1L215.2 859.7L217.9 850.6L220.6 840.9L225.4 822.6L234.0 786.9L237.2 775.3L239.2 769.3L240.9 765.5L241.8 764.1L242.7 763.1L243.5 762.5L244.2 762.4L245.0 762.5L245.8 763.0L246.7 764.0L247.5 765.3L249.3 769.0L251.1 774.3L252.9 780.0L254.7 786.9L264.9 826.9L270.3 845.8L273.9 857.6L277.5 868.5L281.2 879.0L284.9 888.7L288.8 898.0L292.9 907.0L296.9 915.2L301.0 923.0L305.4 930.3L309.8 937.2L314.4 943.7L319.2 949.8L324.9 956.5L330.8 962.5L336.9 967.9L343.0 972.8L349.2 976.9L355.4 980.4L361.7 983.2L368.1 985.4L371.4 986.3L374.8 987.0L378.3 987.6L381.7 988.0L385.2 988.2L388.8 988.3L392.2 988.2L395.7 987.9L399.1 987.4L402.5 986.8L405.8 986.1L409.1 985.1L412.4 984.0L415.5 982.8L418.8 981.3L422.0 979.7L426.3 977.3L430.5 974.7L434.8 971.6L439.0 968.3L443.2 964.7L447.2 960.8L451.2 956.7L455.1 952.3L458.8 947.7L462.4 943.0L465.9 938.0L469.3 932.7L472.6 927.3L475.9 921.4L479.1 915.3L482.3 908.9L487.5 897.3L492.3 885.2L497.1 872.0L501.6 858.1L506.3 841.6L510.8 824.1L514.8 806.6L521.7 774.6L524.4 763.3L526.0 758.0L527.6 754.1L528.3 752.8L529.0 751.9L529.7 751.5L530.3 751.4L530.9 751.5L531.6 752.1L532.2 752.8L532.9 754.0L534.3 757.5L535.9 762.6L538.8 774.0L546.9 809.6L551.0 826.5L553.8 836.7L556.6 846.7L559.7 856.5L562.7 865.6L565.8 874.5L569.0 882.9L572.3 891.0L575.8 899.0L579.2 906.3L582.8 913.4L586.4 920.0L590.0 926.0L594.2 932.4L598.5 938.4L603.0 944.0L607.7 949.4L612.6 954.4L617.8 959.1L622.9 963.3L628.3 967.1L633.7 970.4L639.2 973.3L644.7 975.7L650.3 977.7L655.9 979.2L661.6 980.2L667.2 980.8L673.0 981.0" fill="none" stroke="#0000ff" stroke-width="1.3" stroke-linejoin="round"/><g fill="none" stroke="#0000ff" stroke-width="1.3"><path d="M97.7 971.4V986.8M90.0 979.1H105.4M92.2 973.7L103.1 984.6M92.2 984.6L103.1 973.7"/><path d="M126.4 968.4V983.8M118.7 976.1H134.1M121.0 970.7L131.9 981.6M121.0 981.6L131.9 970.7"/><path d="M155.2 952.1V967.5M147.5 959.8H162.9M149.8 954.3L160.6 965.2M149.8 965.2L160.6 954.3"/><path d="M184.0 920.0V935.4M176.3 927.7H191.7M178.5 922.3L189.4 933.2M178.5 933.2L189.4 922.3"/><path d="M212.7 859.6V875.0M205.0 867.3H220.4M207.3 861.8L218.2 872.7M207.3 872.7L218.2 861.8"/><path d="M241.5 756.8V772.2M233.8 764.5H249.2M236.1 759.1L246.9 769.9M236.1 769.9L246.9 759.1"/><path d="M270.3 838.1V853.5M262.6 845.8H278.0M264.8 840.4L275.7 851.3M264.8 851.3L275.7 840.4"/><path d="M299.0 911.6V927.0M291.3 919.3H306.7M293.6 913.8L304.5 924.7M293.6 924.7L304.5 913.8"/><path d="M327.8 951.8V967.2M320.1 959.5H335.5M322.4 954.0L333.2 964.9M322.4 964.9L333.2 954.0"/><path d="M356.6 973.3V988.7M348.9 981.0H364.3M351.1 975.5L362.0 986.4M351.1 986.4L362.0 975.5"/><path d="M385.3 980.5V995.9M377.6 988.2H393.0M379.9 982.8L390.8 993.7M379.9 993.7L390.8 982.8"/><path d="M414.1 975.7V991.1M406.4 983.4H421.8M408.7 977.9L419.5 988.8M408.7 988.8L419.5 977.9"/><path d="M442.9 957.2V972.6M435.2 964.9H450.6M437.4 959.5L448.3 970.4M437.4 970.4L448.3 959.5"/><path d="M471.6 921.3V936.7M463.9 929.0H479.3M466.2 923.5L477.1 934.4M466.2 934.4L477.1 923.5"/><path d="M500.4 854.1V869.5M492.7 861.8H508.1M495.0 856.4L505.8 867.3M495.0 867.3L505.8 856.4"/><path d="M529.2 744.1V759.5M521.5 751.8H536.9M523.7 746.4L534.6 757.3M523.7 757.3L534.6 746.4"/><path d="M557.9 843.3V858.7M550.2 851.0H565.6M552.5 845.5L563.4 856.4M552.5 856.4L563.4 845.5"/><path d="M586.7 912.8V928.2M579.0 920.5H594.4M581.3 915.0L592.1 925.9M581.3 925.9L592.1 915.0"/><path d="M615.5 949.4V964.8M607.8 957.1H623.2M610.0 951.6L620.9 962.5M610.0 962.5L620.9 951.6"/><path d="M644.2 967.8V983.2M636.5 975.5H651.9M638.8 970.1L649.7 981.0M638.8 981.0L649.7 970.1"/><path d="M673.0 973.3V988.7M665.3 981.0H680.7M667.6 975.5L678.4 986.4M667.6 986.4L678.4 975.5"/></g></g>
<g><rect x="854.67" y="631.4" width="575.33" height="393.10" fill="none" stroke="#262626" stroke-width="1.35"/><path d="M854.67 1024.5v-6.4M854.67 631.4v6.4M998.50 1024.5v-6.4M998.50 631.4v6.4M1142.34 1024.5v-6.4M1142.34 631.4v6.4M1286.17 1024.5v-6.4M1286.17 631.4v6.4M1430.00 1024.5v-6.4M1430.00 631.4v6.4M854.67 631.40h6.4M1430.0 631.40h-6.4M854.67 691.88h6.4M1430.0 691.88h-6.4M854.67 752.35h6.4M1430.0 752.35h-6.4M854.67 812.83h6.4M1430.0 812.83h-6.4M854.67 873.31h6.4M1430.0 873.31h-6.4M854.67 933.78h6.4M1430.0 933.78h-6.4M854.67 994.26h6.4M1430.0 994.26h-6.4" stroke="#262626" stroke-width="1.35" fill="none"/><g font-size="25.2" fill="#262626" stroke="#262626" stroke-width="0.35"><path transform="translate(833.65 1061.20)" d="M5.9 0H8.6V-18.6H7.3C6.8 -17.2 6.0 -16.25 5.0 -15.55C4.1 -14.9 3.0 -14.6 1.85 -14.5V-13.2C3.3 -13.2 4.8 -13.5 5.9 -13.9Z" stroke="none"/><text transform="translate(847.66 1061.20) scale(1 1.09)" letter-spacing="0">40</text><path transform="translate(977.48 1061.20)" d="M5.9 0H8.6V-18.6H7.3C6.8 -17.2 6.0 -16.25 5.0 -15.55C4.1 -14.9 3.0 -14.6 1.85 -14.5V-13.2C3.3 -13.2 4.8 -13.5 5.9 -13.9Z" stroke="none"/><text transform="translate(991.49 1061.20) scale(1 1.09)" letter-spacing="0">60</text><path transform="translate(1121.31 1061.20)" d="M5.9 0H8.6V-18.6H7.3C6.8 -17.2 6.0 -16.25 5.0 -15.55C4.1 -14.9 3.0 -14.6 1.85 -14.5V-13.2C3.3 -13.2 4.8 -13.5 5.9 -13.9Z" stroke="none"/><text transform="translate(1135.33 1061.20) scale(1 1.09)" letter-spacing="0">80</text><text transform="translate(1265.14 1061.20) scale(1 1.09)" letter-spacing="0">200</text><text transform="translate(1408.98 1061.20) scale(1 1.09)" letter-spacing="0">220</text><path transform="translate(806.75 642.60)" d="M1.3 -9.2H7.3V-7.6H1.3Z" stroke="none"/><text transform="translate(815.69 642.60) scale(1 1.09)" letter-spacing="0.55">40</text><path transform="translate(806.75 703.08)" d="M1.3 -9.2H7.3V-7.6H1.3Z" stroke="none"/><text transform="translate(815.69 703.08) scale(1 1.09)" letter-spacing="0.55">50</text><path transform="translate(806.75 763.55)" d="M1.3 -9.2H7.3V-7.6H1.3Z" stroke="none"/><text transform="translate(815.69 763.55) scale(1 1.09)" letter-spacing="0.55">60</text><path transform="translate(806.75 824.03)" d="M1.3 -9.2H7.3V-7.6H1.3Z" stroke="none"/><text transform="translate(815.69 824.03) scale(1 1.09)" letter-spacing="0.55">70</text><path transform="translate(806.75 884.51)" d="M1.3 -9.2H7.3V-7.6H1.3Z" stroke="none"/><text transform="translate(815.69 884.51) scale(1 1.09)" letter-spacing="0.55">80</text><path transform="translate(806.75 944.98)" d="M1.3 -9.2H7.3V-7.6H1.3Z" stroke="none"/><text transform="translate(815.69 944.98) scale(1 1.09)" letter-spacing="0.55">90</text><path transform="translate(792.18 1005.46)" d="M1.3 -9.2H7.3V-7.6H1.3Z" stroke="none"/><path transform="translate(801.12 1005.46)" d="M5.9 0H8.6V-18.6H7.3C6.8 -17.2 6.0 -16.25 5.0 -15.55C4.1 -14.9 3.0 -14.6 1.85 -14.5V-13.2C3.3 -13.2 4.8 -13.5 5.9 -13.9Z" stroke="none"/><text transform="translate(815.69 1005.46) scale(1 1.09)" letter-spacing="0.55">00</text></g><path d="M1105.18 607.20h10v2.5h-3.2v12.8h-2.9v-12.8h-3.9z" fill="#000"/><text transform="translate(1116.18 622.70) scale(1 1.055)" font-size="28.2" fill="#000" stroke="#000" stroke-width="0.35">= 0.8</text><text transform="translate(1142.34 1109.50) scale(1 1.0)" text-anchor="middle" font-size="28.3" fill="#262626" stroke="#262626" stroke-width="0.35">Frequency(Hz)</text><text transform="translate(777.9 828.0) rotate(-90) scale(1 1.0)" x="0" y="0" text-anchor="middle" font-size="28.3" fill="#262626" stroke="#262626" stroke-width="0.35">Power/Frequency(dB/Hz)</text><path clip-path="url(#cBR)" d="M854.7 974.0L858.8 974.0L862.9 973.8L867.0 973.3L871.1 972.7L875.1 971.9L879.1 970.8L883.1 969.6L887.2 968.1L891.2 966.4L895.1 964.6L899.1 962.5L903.0 960.2L906.9 957.8L910.6 955.2L914.4 952.4L918.2 949.3L925.7 942.6L933.3 935.0L941.1 926.4L948.7 917.0L954.2 909.8L959.7 902.0L965.9 892.7L979.4 871.5L983.3 865.9L986.6 861.7L990.0 858.0L991.7 856.5L993.3 855.4L994.9 854.5L996.5 853.8L998.1 853.4L999.5 853.3L1001.1 853.4L1002.7 853.8L1004.3 854.5L1006.0 855.5L1007.7 856.8L1009.4 858.3L1011.3 860.3L1013.2 862.5L1016.2 866.5L1019.5 871.3L1031.0 889.5L1036.6 898.1L1041.5 905.2L1046.7 912.4L1056.8 925.6L1066.0 937.3L1072.9 945.4L1079.0 952.0L1083.7 956.4L1088.1 960.1L1092.9 963.4L1097.9 966.5L1103.2 969.2L1109.0 971.7L1115.7 974.1L1122.3 976.1L1127.4 977.4L1132.1 978.3L1136.7 978.8L1141.3 979.1L1145.8 979.1L1150.2 978.8L1154.7 978.1L1159.3 977.2L1163.9 975.9L1168.7 974.3L1173.4 972.4L1178.3 970.2L1183.3 967.6L1188.5 964.7L1193.8 961.4L1199.4 957.7L1207.6 951.7L1211.2 948.8L1214.5 945.9L1217.7 943.0L1220.9 939.8L1223.9 936.5L1226.9 932.9L1231.7 926.8L1237.0 919.1L1242.0 911.3L1252.8 894.2L1257.5 887.0L1262.1 880.7L1266.5 875.5L1268.8 873.1L1270.9 871.1L1273.1 869.4L1275.1 868.0L1277.1 867.0L1279.1 866.2L1281.1 865.7L1283.1 865.5L1285.0 865.6L1287.0 865.9L1289.0 866.6L1291.1 867.5L1293.1 868.6L1295.2 870.1L1297.5 872.0L1299.8 874.1L1303.9 878.2L1308.3 883.3L1313.4 889.5L1330.0 910.5L1336.1 917.6L1341.7 923.8L1348.2 930.4L1354.8 936.5L1361.5 942.2L1368.6 947.4L1376.6 952.8L1384.7 957.5L1392.6 961.4L1396.5 963.1L1400.4 964.6L1404.3 965.9L1408.0 967.0L1411.7 968.0L1415.5 968.7L1419.2 969.3L1422.8 969.6L1426.4 969.8L1430.0 969.8" fill="none" stroke="#0000ff" stroke-width="1.3" stroke-linejoin="round"/><g fill="none" stroke="#0000ff" stroke-width="1.3"><path d="M854.7 966.3V981.7M847.0 974.0H862.4M849.2 968.6L860.1 979.4M849.2 979.4L860.1 968.6"/><path d="M883.4 961.8V977.2M875.7 969.5H891.1M878.0 964.0L888.9 974.9M878.0 974.9L888.9 964.0"/><path d="M912.2 946.3V961.7M904.5 954.0H919.9M906.8 948.6L917.6 959.5M906.8 959.5L917.6 948.6"/><path d="M941.0 918.8V934.2M933.3 926.5H948.7M935.5 921.1L946.4 932.0M935.5 932.0L946.4 921.1"/><path d="M969.7 878.9V894.3M962.0 886.6H977.4M964.3 881.2L975.2 892.1M964.3 892.1L975.2 881.2"/><path d="M998.5 845.7V861.1M990.8 853.4H1006.2M993.1 847.9L1003.9 858.8M993.1 858.8L1003.9 847.9"/><path d="M1027.3 875.9V891.3M1019.6 883.6H1035.0M1021.8 878.1L1032.7 889.0M1021.8 889.0L1032.7 878.1"/><path d="M1056.0 917.0V932.4M1048.3 924.7H1063.7M1050.6 919.3L1061.5 930.2M1050.6 930.2L1061.5 919.3"/><path d="M1084.8 949.7V965.1M1077.1 957.4H1092.5M1079.4 951.9L1090.2 962.8M1079.4 962.8L1090.2 951.9"/><path d="M1113.6 965.7V981.1M1105.9 973.4H1121.3M1108.1 968.0L1119.0 978.8M1108.1 978.8L1119.0 968.0"/><path d="M1142.3 971.4V986.8M1134.6 979.1H1150.0M1136.9 973.7L1147.8 984.6M1136.9 984.6L1147.8 973.7"/><path d="M1171.1 965.7V981.1M1163.4 973.4H1178.8M1165.7 968.0L1176.5 978.8M1165.7 978.8L1176.5 968.0"/><path d="M1199.9 949.7V965.1M1192.2 957.4H1207.6M1194.4 951.9L1205.3 962.8M1194.4 962.8L1205.3 951.9"/><path d="M1228.6 923.1V938.5M1220.9 930.8H1236.3M1223.2 925.3L1234.1 936.2M1223.2 936.2L1234.1 925.3"/><path d="M1257.4 879.5V894.9M1249.7 887.2H1265.1M1252.0 881.8L1262.8 892.7M1252.0 892.7L1262.8 881.8"/><path d="M1286.2 858.0V873.4M1278.5 865.7H1293.9M1280.7 860.3L1291.6 871.2M1280.7 871.2L1291.6 860.3"/><path d="M1314.9 883.8V899.2M1307.2 891.5H1322.6M1309.5 886.0L1320.4 896.9M1309.5 896.9L1320.4 886.0"/><path d="M1343.7 918.2V933.6M1336.0 925.9H1351.4M1338.3 920.5L1349.1 931.4M1338.3 931.4L1349.1 920.5"/><path d="M1372.5 942.4V957.8M1364.8 950.1H1380.2M1367.0 944.7L1377.9 955.6M1367.0 955.6L1377.9 944.7"/><path d="M1401.2 957.2V972.6M1393.5 964.9H1408.9M1395.8 959.5L1406.7 970.4M1395.8 970.4L1406.7 959.5"/><path d="M1430.0 962.1V977.5M1422.3 969.8H1437.7M1424.6 964.3L1435.4 975.2M1424.6 975.2L1435.4 964.3"/></g><path clip-path="url(#cBR)" d="M854.7 969.8L858.3 969.9L861.9 969.9L865.6 969.7L869.3 969.2L873.1 968.6L876.8 967.8L880.7 966.7L884.6 965.4L888.5 964.0L892.5 962.3L896.5 960.5L900.6 958.5L908.9 953.7L917.4 948.2L924.3 943.1L930.8 937.7L936.9 932.1L943.1 925.8L948.4 919.8L954.2 913.0L970.5 892.4L975.3 886.3L979.8 881.2L983.7 877.2L986.0 875.1L988.3 873.2L990.4 871.7L992.5 870.5L994.5 869.6L996.5 868.9L998.5 868.5L1000.5 868.3L1002.5 868.5L1004.7 868.9L1006.8 869.7L1009.0 870.7L1011.2 872.0L1013.5 873.8L1015.9 875.9L1018.4 878.2L1022.2 882.4L1026.5 887.5L1046.7 913.4L1052.2 920.1L1057.3 926.2L1063.1 932.6L1068.7 938.4L1074.3 943.8L1079.9 948.8L1085.4 953.3L1090.8 957.3L1096.2 960.9L1101.5 964.0L1106.8 966.7L1112.0 968.9L1117.2 970.7L1122.5 972.1L1126.5 972.9L1130.5 973.5L1134.9 974.0L1139.2 974.2L1143.8 974.3L1148.4 974.2L1152.7 973.9L1157.0 973.4L1160.9 972.7L1164.6 971.9L1168.4 970.9L1172.0 969.8L1175.7 968.4L1179.4 966.8L1183.3 964.9L1187.2 962.8L1191.4 960.4L1195.7 957.7L1204.8 951.5L1213.0 945.2L1220.7 938.4L1226.9 932.5L1233.2 925.9L1239.1 919.3L1251.5 905.1L1256.7 899.5L1261.4 894.7L1265.9 890.7L1268.3 888.8L1270.8 887.1L1273.2 885.6L1275.5 884.5L1277.8 883.6L1280.1 882.9L1282.3 882.5L1284.6 882.3L1286.9 882.4L1289.3 882.8L1291.8 883.4L1294.2 884.3L1296.7 885.5L1299.3 886.9L1302.0 888.7L1304.7 890.7L1309.5 894.6L1314.6 899.3L1337.1 921.8L1343.1 927.6L1348.7 932.6L1355.1 937.9L1361.2 942.7L1367.3 946.9L1373.2 950.5L1379.5 954.0L1386.0 956.9L1392.7 959.6L1399.7 961.8L1406.8 963.6L1414.2 965.0L1421.9 966.1L1430.0 966.7" fill="none" stroke="#ff0000" stroke-width="1.3" stroke-linejoin="round"/><g fill="none" stroke="#ff0000" stroke-width="1.3"><circle cx="854.7" cy="969.8" r="7.8"/><circle cx="883.4" cy="965.8" r="7.8"/><circle cx="912.2" cy="951.6" r="7.8"/><circle cx="941.0" cy="928.0" r="7.8"/><circle cx="969.7" cy="893.3" r="7.8"/><circle cx="998.5" cy="868.5" r="7.8"/><circle cx="1027.3" cy="888.4" r="7.8"/><circle cx="1056.0" cy="924.7" r="7.8"/><circle cx="1084.8" cy="952.8" r="7.8"/><circle cx="1113.6" cy="969.5" r="7.8"/><circle cx="1142.3" cy="974.3" r="7.8"/><circle cx="1171.1" cy="970.1" r="7.8"/><circle cx="1199.9" cy="955.0" r="7.8"/><circle cx="1228.6" cy="930.8" r="7.8"/><circle cx="1257.4" cy="898.7" r="7.8"/><circle cx="1286.2" cy="882.4" r="7.8"/><circle cx="1314.9" cy="899.6" r="7.8"/><circle cx="1343.7" cy="928.1" r="7.8"/><circle cx="1372.5" cy="950.1" r="7.8"/><circle cx="1401.2" cy="962.2" r="7.8"/><circle cx="1430.0" cy="966.7" r="7.8"/></g><path clip-path="url(#cBR)" d="M854.7 983.1L860.3 982.7L865.9 981.9L871.4 980.9L876.8 979.5L882.1 977.8L887.5 975.7L892.6 973.4L897.7 970.8L902.6 967.8L907.5 964.6L912.2 961.0L916.9 957.0L921.6 952.8L926.0 948.3L930.3 943.5L934.6 938.3L938.1 933.8L941.4 929.2L944.6 924.6L947.7 919.6L953.6 909.3L959.4 898.0L962.4 891.5L965.4 884.6L968.4 877.2L971.5 869.4L977.1 853.7L987.6 822.6L989.9 816.3L991.9 811.2L994.5 805.7L995.8 803.5L996.9 801.8L998.1 800.5L999.2 799.6L1000.4 799.1L1001.4 798.9L1002.4 799.1L1003.5 799.6L1004.5 800.4L1005.7 801.7L1006.8 803.3L1008.0 805.2L1010.6 810.5L1013.0 816.4L1015.9 824.2L1026.5 855.2L1031.4 869.0L1035.5 879.8L1039.4 889.6L1044.5 901.8L1049.6 912.5L1054.6 922.2L1059.6 930.7L1062.5 935.1L1065.5 939.4L1068.5 943.4L1071.7 947.3L1075.0 951.1L1078.5 954.8L1082.2 958.5L1086.1 962.2L1090.3 965.9L1094.3 969.2L1098.3 972.2L1102.2 975.0L1106.1 977.5L1110.0 979.7L1113.7 981.6L1117.5 983.3L1122.6 985.2L1128.0 986.7L1133.3 987.8L1138.7 988.4L1144.1 988.5L1149.5 988.2L1155.0 987.5L1160.6 986.3L1166.1 984.6L1171.7 982.5L1177.3 980.0L1182.9 977.0L1188.5 973.6L1194.1 969.7L1199.6 965.5L1205.0 960.8L1208.9 957.2L1212.8 953.3L1216.6 949.3L1220.1 945.1L1223.7 940.7L1227.2 936.1L1230.6 931.2L1234.0 926.2L1237.8 919.9L1241.7 913.2L1245.6 906.2L1249.5 898.7L1257.0 883.3L1271.1 852.7L1274.1 846.6L1276.8 841.6L1280.1 836.3L1281.7 834.3L1283.3 832.5L1284.9 831.2L1286.3 830.3L1287.7 829.7L1289.2 829.6L1290.5 829.7L1291.8 830.1L1293.1 830.8L1294.4 831.7L1295.7 832.9L1297.1 834.5L1300.1 838.6L1303.1 843.6L1306.6 850.0L1319.4 875.6L1325.1 886.7L1330.2 895.9L1335.2 904.4L1341.8 914.7L1348.4 924.0L1355.4 932.7L1362.3 940.4L1365.9 944.1L1369.6 947.6L1373.2 950.7L1376.9 953.7L1380.8 956.6L1384.7 959.3L1388.7 961.8L1392.9 964.2L1397.1 966.3L1401.4 968.3L1405.8 970.2L1410.3 971.8L1414.9 973.3L1419.8 974.7L1424.8 975.9L1430.0 977.0" fill="none" stroke="#00ff00" stroke-width="1.3" stroke-linejoin="round"/><g fill="none" stroke="#00ff00" stroke-width="1.3"><rect x="849.0" y="977.4" width="11.4" height="11.4"/><rect x="877.7" y="971.6" width="11.4" height="11.4"/><rect x="906.5" y="955.3" width="11.4" height="11.4"/><rect x="935.3" y="924.2" width="11.4" height="11.4"/><rect x="964.0" y="868.2" width="11.4" height="11.4"/><rect x="992.8" y="794.4" width="11.4" height="11.4"/><rect x="1021.6" y="851.6" width="11.4" height="11.4"/><rect x="1050.3" y="919.0" width="11.4" height="11.4"/><rect x="1079.1" y="955.3" width="11.4" height="11.4"/><rect x="1107.9" y="975.9" width="11.4" height="11.4"/><rect x="1136.6" y="982.8" width="11.4" height="11.4"/><rect x="1165.4" y="977.1" width="11.4" height="11.4"/><rect x="1194.2" y="959.5" width="11.4" height="11.4"/><rect x="1222.9" y="928.4" width="11.4" height="11.4"/><rect x="1251.7" y="876.7" width="11.4" height="11.4"/><rect x="1280.5" y="824.7" width="11.4" height="11.4"/><rect x="1309.2" y="861.0" width="11.4" height="11.4"/><rect x="1338.0" y="911.8" width="11.4" height="11.4"/><rect x="1366.8" y="944.4" width="11.4" height="11.4"/><rect x="1395.5" y="962.6" width="11.4" height="11.4"/><rect x="1424.3" y="971.3" width="11.4" height="11.4"/></g><path clip-path="url(#cBR)" d="M854.7 978.0L866.2 976.7L875.0 975.2L878.8 974.4L882.6 973.3L886.2 972.1L889.8 970.8L893.6 969.0L897.5 967.1L901.3 965.0L905.0 962.7L908.6 960.2L912.1 957.5L915.5 954.7L919.0 951.6L922.4 948.1L925.7 944.6L929.0 940.8L932.2 936.8L935.4 932.6L938.4 928.2L941.4 923.6L944.4 918.6L947.3 913.5L950.0 908.4L952.6 903.2L955.2 897.6L959.8 886.5L964.3 874.2L968.3 861.5L972.0 848.2L975.6 833.7L978.9 818.5L981.8 803.5L984.6 787.0L987.0 769.9L989.2 752.2L991.0 734.2L992.6 716.2L994.0 696.8L995.3 676.2L996.5 654.2L997.5 631.4L1000.1 558.9L1000.5 550.3L1000.9 546.5L1001.1 546.5L1001.4 548.6L1002.0 559.6L1004.0 618.6L1005.4 654.1L1006.7 679.9L1008.1 703.6L1010.2 730.5L1012.3 753.9L1014.9 776.8L1017.8 797.7L1020.8 815.8L1024.2 833.1L1026.1 841.2L1028.0 848.6L1030.0 855.9L1032.2 863.1L1034.7 871.0L1037.8 879.6L1041.4 889.1L1045.7 900.1L1049.6 909.5L1053.0 917.5L1056.3 924.7L1059.5 931.1L1063.1 937.7L1066.8 944.0L1070.7 950.0L1074.7 955.7L1079.0 961.3L1083.5 966.5L1088.0 971.2L1092.6 975.7L1097.2 979.6L1101.8 983.1L1106.5 986.3L1111.4 989.1L1116.2 991.4L1121.0 993.3L1125.9 994.9L1130.8 996.0L1136.2 996.7L1141.5 996.9L1146.9 996.8L1152.5 996.2L1158.3 995.1L1164.1 993.6L1169.8 991.7L1175.4 989.4L1180.9 986.8L1186.2 983.8L1191.4 980.4L1196.3 976.8L1201.0 972.8L1205.5 968.5L1209.8 963.9L1214.0 958.9L1218.9 952.4L1223.6 945.2L1228.2 937.6L1232.8 929.1L1237.1 920.3L1241.0 911.6L1244.6 902.7L1248.1 893.1L1251.4 882.8L1254.4 872.4L1257.4 860.7L1260.1 849.1L1262.9 836.1L1265.3 823.1L1267.6 809.5L1269.8 795.2L1271.6 781.3L1273.4 767.1L1274.9 752.5L1276.4 737.7L1277.8 720.9L1279.1 703.6L1281.3 668.6L1282.4 645.0L1283.4 620.1L1284.3 594.1L1285.0 567.5L1286.2 508.3L1287.0 433.7L1287.2 431.4L1289.0 431.4L1289.2 432.8L1289.8 487.3L1290.3 525.3L1291.1 560.9L1291.8 588.7L1292.8 619.6L1293.9 647.6L1295.2 673.1L1296.8 698.6L1298.5 721.5L1300.6 743.9L1302.9 765.4L1305.3 784.6L1308.0 803.1L1311.1 820.5L1314.4 836.9L1318.0 852.2L1322.1 867.4L1324.3 874.4L1326.6 881.3L1329.0 888.1L1331.6 894.8L1334.4 901.4L1337.2 907.9L1340.2 914.2L1343.4 920.5L1346.7 926.6L1350.0 932.2L1353.3 937.5L1356.8 942.7L1360.2 947.4L1363.7 951.8L1367.1 955.8L1370.7 959.6L1374.5 963.2L1378.2 966.4L1382.1 969.5L1386.1 972.4L1390.3 975.1L1394.5 977.5L1398.8 979.7L1403.2 981.6L1407.7 983.3L1412.3 984.7L1416.8 985.8L1421.2 986.7L1425.5 987.2L1430.0 987.5" fill="none" stroke="#000" stroke-width="1.3" stroke-dasharray="1.3 2.6"/></g>
<rect x="373" y="0.67" width="771" height="37.83" fill="#fff" stroke="#262626" stroke-width="1.35"/><path d="M380.7 19.5H458.5" stroke="#000" stroke-width="1.3" stroke-dasharray="1.3 2.6" fill="none"/><path d="M629 19.5H706.8" stroke="#00ff00" stroke-width="1.3"/><rect x="662.4" y="13.9" width="11.2" height="11.2" fill="none" stroke="#00ff00" stroke-width="1.3"/><path d="M827.5 19.5H904.8" stroke="#ff0000" stroke-width="1.3"/><circle cx="866" cy="19.5" r="7.8" fill="none" stroke="#ff0000" stroke-width="1.3"/><path d="M1014.4 19.5H1091.5" stroke="#0000ff" stroke-width="1.3"/><g fill="none" stroke="#0000ff" stroke-width="1.3"><path d="M1052.9 11.8V27.2M1045.2 19.5H1060.6M1047.5 14.1L1058.3 24.9M1047.5 24.9L1058.3 14.1"/></g><g font-size="23.5" fill="#000" stroke="#000" stroke-width="0.35"><text x="463.5" y="29">True spectrum</text><text x="712" y="29">Proposed</text><text x="910" y="29">Subgrad</text><text x="1096.5" y="29">MM</text></g>
</svg>
</body></html>
